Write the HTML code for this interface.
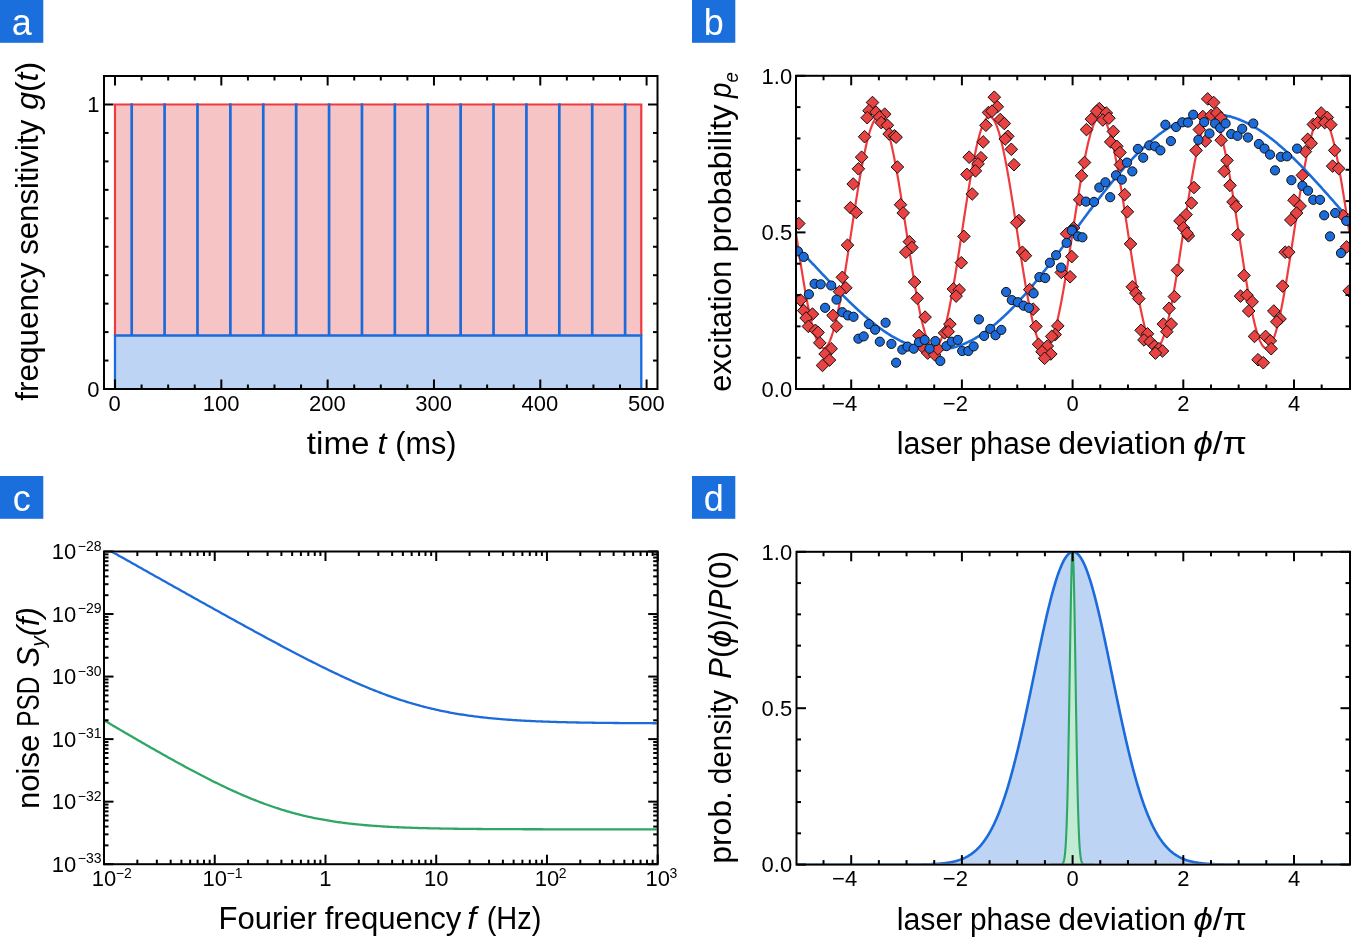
<!DOCTYPE html><html><head><meta charset="utf-8"><style>html,body{margin:0;padding:0;background:#fff;overflow:hidden}svg{display:block;will-change:transform}text{font-kerning:none;font-variant-ligatures:none}</style></head><body><svg width="1351" height="940" viewBox="0 0 1351 940" font-family='"Liberation Sans", sans-serif'>
<rect width="1351" height="940" fill="#fff"/>
<rect x="115" y="104.5" width="526.28" height="284.5" fill="#f7c4c5"/>
<rect x="115" y="335.51" width="526.28" height="53.49" fill="#bdd4f4"/>
<polyline points="115,335.51 115,104.5 641.28,104.5 641.28,335.51" fill="none" stroke="#ef3b3e" stroke-width="2.2"/>
<polyline points="115,389 115,335.51 641.28,335.51 641.28,389" fill="none" stroke="#1b6bdb" stroke-width="2.3"/>
<line x1="131.7" y1="335.51" x2="131.7" y2="103.3" stroke="#1b6bdb" stroke-width="2.7"/>
<line x1="164.59" y1="335.51" x2="164.59" y2="103.3" stroke="#1b6bdb" stroke-width="2.7"/>
<line x1="197.49" y1="335.51" x2="197.49" y2="103.3" stroke="#1b6bdb" stroke-width="2.7"/>
<line x1="230.38" y1="335.51" x2="230.38" y2="103.3" stroke="#1b6bdb" stroke-width="2.7"/>
<line x1="263.27" y1="335.51" x2="263.27" y2="103.3" stroke="#1b6bdb" stroke-width="2.7"/>
<line x1="296.16" y1="335.51" x2="296.16" y2="103.3" stroke="#1b6bdb" stroke-width="2.7"/>
<line x1="329.06" y1="335.51" x2="329.06" y2="103.3" stroke="#1b6bdb" stroke-width="2.7"/>
<line x1="361.95" y1="335.51" x2="361.95" y2="103.3" stroke="#1b6bdb" stroke-width="2.7"/>
<line x1="394.84" y1="335.51" x2="394.84" y2="103.3" stroke="#1b6bdb" stroke-width="2.7"/>
<line x1="427.74" y1="335.51" x2="427.74" y2="103.3" stroke="#1b6bdb" stroke-width="2.7"/>
<line x1="460.63" y1="335.51" x2="460.63" y2="103.3" stroke="#1b6bdb" stroke-width="2.7"/>
<line x1="493.52" y1="335.51" x2="493.52" y2="103.3" stroke="#1b6bdb" stroke-width="2.7"/>
<line x1="526.42" y1="335.51" x2="526.42" y2="103.3" stroke="#1b6bdb" stroke-width="2.7"/>
<line x1="559.31" y1="335.51" x2="559.31" y2="103.3" stroke="#1b6bdb" stroke-width="2.7"/>
<line x1="592.2" y1="335.51" x2="592.2" y2="103.3" stroke="#1b6bdb" stroke-width="2.7"/>
<line x1="625.1" y1="335.51" x2="625.1" y2="103.3" stroke="#1b6bdb" stroke-width="2.7"/>
<line x1="115" y1="389" x2="115" y2="379.5" stroke="#000" stroke-width="2"/>
<line x1="115" y1="76" x2="115" y2="85.5" stroke="#000" stroke-width="2"/>
<line x1="221.32" y1="389" x2="221.32" y2="379.5" stroke="#000" stroke-width="2"/>
<line x1="221.32" y1="76" x2="221.32" y2="85.5" stroke="#000" stroke-width="2"/>
<line x1="327.64" y1="389" x2="327.64" y2="379.5" stroke="#000" stroke-width="2"/>
<line x1="327.64" y1="76" x2="327.64" y2="85.5" stroke="#000" stroke-width="2"/>
<line x1="433.96" y1="389" x2="433.96" y2="379.5" stroke="#000" stroke-width="2"/>
<line x1="433.96" y1="76" x2="433.96" y2="85.5" stroke="#000" stroke-width="2"/>
<line x1="540.28" y1="389" x2="540.28" y2="379.5" stroke="#000" stroke-width="2"/>
<line x1="540.28" y1="76" x2="540.28" y2="85.5" stroke="#000" stroke-width="2"/>
<line x1="646.6" y1="389" x2="646.6" y2="379.5" stroke="#000" stroke-width="2"/>
<line x1="646.6" y1="76" x2="646.6" y2="85.5" stroke="#000" stroke-width="2"/>
<line x1="141.58" y1="389" x2="141.58" y2="384.5" stroke="#000" stroke-width="2"/>
<line x1="141.58" y1="76" x2="141.58" y2="80.5" stroke="#000" stroke-width="2"/>
<line x1="168.16" y1="389" x2="168.16" y2="384.5" stroke="#000" stroke-width="2"/>
<line x1="168.16" y1="76" x2="168.16" y2="80.5" stroke="#000" stroke-width="2"/>
<line x1="194.74" y1="389" x2="194.74" y2="384.5" stroke="#000" stroke-width="2"/>
<line x1="194.74" y1="76" x2="194.74" y2="80.5" stroke="#000" stroke-width="2"/>
<line x1="247.9" y1="389" x2="247.9" y2="384.5" stroke="#000" stroke-width="2"/>
<line x1="247.9" y1="76" x2="247.9" y2="80.5" stroke="#000" stroke-width="2"/>
<line x1="274.48" y1="389" x2="274.48" y2="384.5" stroke="#000" stroke-width="2"/>
<line x1="274.48" y1="76" x2="274.48" y2="80.5" stroke="#000" stroke-width="2"/>
<line x1="301.06" y1="389" x2="301.06" y2="384.5" stroke="#000" stroke-width="2"/>
<line x1="301.06" y1="76" x2="301.06" y2="80.5" stroke="#000" stroke-width="2"/>
<line x1="354.22" y1="389" x2="354.22" y2="384.5" stroke="#000" stroke-width="2"/>
<line x1="354.22" y1="76" x2="354.22" y2="80.5" stroke="#000" stroke-width="2"/>
<line x1="380.8" y1="389" x2="380.8" y2="384.5" stroke="#000" stroke-width="2"/>
<line x1="380.8" y1="76" x2="380.8" y2="80.5" stroke="#000" stroke-width="2"/>
<line x1="407.38" y1="389" x2="407.38" y2="384.5" stroke="#000" stroke-width="2"/>
<line x1="407.38" y1="76" x2="407.38" y2="80.5" stroke="#000" stroke-width="2"/>
<line x1="460.54" y1="389" x2="460.54" y2="384.5" stroke="#000" stroke-width="2"/>
<line x1="460.54" y1="76" x2="460.54" y2="80.5" stroke="#000" stroke-width="2"/>
<line x1="487.12" y1="389" x2="487.12" y2="384.5" stroke="#000" stroke-width="2"/>
<line x1="487.12" y1="76" x2="487.12" y2="80.5" stroke="#000" stroke-width="2"/>
<line x1="513.7" y1="389" x2="513.7" y2="384.5" stroke="#000" stroke-width="2"/>
<line x1="513.7" y1="76" x2="513.7" y2="80.5" stroke="#000" stroke-width="2"/>
<line x1="566.86" y1="389" x2="566.86" y2="384.5" stroke="#000" stroke-width="2"/>
<line x1="566.86" y1="76" x2="566.86" y2="80.5" stroke="#000" stroke-width="2"/>
<line x1="593.44" y1="389" x2="593.44" y2="384.5" stroke="#000" stroke-width="2"/>
<line x1="593.44" y1="76" x2="593.44" y2="80.5" stroke="#000" stroke-width="2"/>
<line x1="620.02" y1="389" x2="620.02" y2="384.5" stroke="#000" stroke-width="2"/>
<line x1="620.02" y1="76" x2="620.02" y2="80.5" stroke="#000" stroke-width="2"/>
<line x1="104" y1="389" x2="113.5" y2="389" stroke="#000" stroke-width="2"/>
<line x1="657.5" y1="389" x2="648" y2="389" stroke="#000" stroke-width="2"/>
<line x1="104" y1="104.5" x2="113.5" y2="104.5" stroke="#000" stroke-width="2"/>
<line x1="657.5" y1="104.5" x2="648" y2="104.5" stroke="#000" stroke-width="2"/>
<line x1="104" y1="360.55" x2="108.5" y2="360.55" stroke="#000" stroke-width="2"/>
<line x1="657.5" y1="360.55" x2="653" y2="360.55" stroke="#000" stroke-width="2"/>
<line x1="104" y1="332.1" x2="108.5" y2="332.1" stroke="#000" stroke-width="2"/>
<line x1="657.5" y1="332.1" x2="653" y2="332.1" stroke="#000" stroke-width="2"/>
<line x1="104" y1="303.65" x2="108.5" y2="303.65" stroke="#000" stroke-width="2"/>
<line x1="657.5" y1="303.65" x2="653" y2="303.65" stroke="#000" stroke-width="2"/>
<line x1="104" y1="275.2" x2="108.5" y2="275.2" stroke="#000" stroke-width="2"/>
<line x1="657.5" y1="275.2" x2="653" y2="275.2" stroke="#000" stroke-width="2"/>
<line x1="104" y1="246.75" x2="108.5" y2="246.75" stroke="#000" stroke-width="2"/>
<line x1="657.5" y1="246.75" x2="653" y2="246.75" stroke="#000" stroke-width="2"/>
<line x1="104" y1="218.3" x2="108.5" y2="218.3" stroke="#000" stroke-width="2"/>
<line x1="657.5" y1="218.3" x2="653" y2="218.3" stroke="#000" stroke-width="2"/>
<line x1="104" y1="189.85" x2="108.5" y2="189.85" stroke="#000" stroke-width="2"/>
<line x1="657.5" y1="189.85" x2="653" y2="189.85" stroke="#000" stroke-width="2"/>
<line x1="104" y1="161.4" x2="108.5" y2="161.4" stroke="#000" stroke-width="2"/>
<line x1="657.5" y1="161.4" x2="653" y2="161.4" stroke="#000" stroke-width="2"/>
<line x1="104" y1="132.95" x2="108.5" y2="132.95" stroke="#000" stroke-width="2"/>
<line x1="657.5" y1="132.95" x2="653" y2="132.95" stroke="#000" stroke-width="2"/>
<rect x="104" y="76" width="553.5" height="313" fill="none" stroke="#000" stroke-width="2"/>
<text x="114.7" y="410.8" font-size="22" text-anchor="middle" >0</text>
<text x="221.02" y="410.8" font-size="22" text-anchor="middle" >100</text>
<text x="327.34" y="410.8" font-size="22" text-anchor="middle" >200</text>
<text x="433.66" y="410.8" font-size="22" text-anchor="middle" >300</text>
<text x="539.98" y="410.8" font-size="22" text-anchor="middle" >400</text>
<text x="646.3" y="410.8" font-size="22" text-anchor="middle" >500</text>
<text x="99.5" y="112.3" font-size="22" text-anchor="end" >1</text>
<text x="99.5" y="396.8" font-size="22" text-anchor="end" >0</text>
<text x="306.80" y="453.8" font-size="31" textLength="62.78" lengthAdjust="spacingAndGlyphs" ><tspan>time</tspan></text>
<text x="377.43" y="453.8" font-size="31" textLength="9.04" lengthAdjust="spacingAndGlyphs" ><tspan font-style="italic">t</tspan></text>
<text x="395.30" y="453.8" font-size="31" textLength="61.20" lengthAdjust="spacingAndGlyphs" ><tspan>(ms)</tspan></text>
<text transform="translate(38,0) rotate(-90)" x="-400.85" y="0" font-size="31" textLength="138.31" lengthAdjust="spacingAndGlyphs" ><tspan>frequency</tspan></text>
<text transform="translate(38,0) rotate(-90)" x="-254.87" y="0" font-size="31" textLength="135.13" lengthAdjust="spacingAndGlyphs" ><tspan>sensitivity</tspan></text>
<text transform="translate(38,0) rotate(-90)" x="-109.76" y="0" font-size="31" textLength="47.84" lengthAdjust="spacingAndGlyphs" ><tspan font-style="italic">g</tspan><tspan>(</tspan><tspan font-style="italic">t</tspan><tspan>)</tspan></text>
<defs><clipPath id="cb"><rect x="797" y="76.8" width="552" height="311.2"/></clipPath><clipPath id="cd"><rect x="797.5" y="552.8" width="552" height="310.8"/></clipPath></defs>
<g clip-path="url(#cb)">
<polyline points="795.85,232.4 796.77,238.46 797.69,244.51 798.62,250.53 799.54,256.49 800.46,262.39 801.38,268.21 802.31,273.93 803.23,279.53 804.15,285.01 805.07,290.34 806,295.51 806.92,300.51 807.84,305.33 808.76,309.94 809.69,314.34 810.61,318.52 811.53,322.46 812.45,326.15 813.38,329.59 814.3,332.76 815.22,335.65 816.14,338.27 817.07,340.59 817.99,342.61 818.91,344.34 819.83,345.75 820.76,346.86 821.68,347.65 822.6,348.13 823.52,348.28 824.45,348.13 825.37,347.65 826.29,346.86 827.21,345.75 828.14,344.34 829.06,342.61 829.98,340.59 830.9,338.27 831.83,335.65 832.75,332.76 833.67,329.59 834.59,326.15 835.52,322.46 836.44,318.52 837.36,314.34 838.28,309.94 839.21,305.33 840.13,300.51 841.05,295.51 841.97,290.34 842.9,285.01 843.82,279.53 844.74,273.93 845.66,268.21 846.59,262.39 847.51,256.49 848.43,250.53 849.35,244.51 850.28,238.46 851.2,232.4 852.12,226.34 853.04,220.29 853.97,214.27 854.89,208.31 855.81,202.41 856.73,196.59 857.66,190.87 858.58,185.27 859.5,179.79 860.42,174.46 861.35,169.29 862.27,164.29 863.19,159.47 864.11,154.86 865.04,150.46 865.96,146.28 866.88,142.34 867.8,138.65 868.73,135.21 869.65,132.04 870.57,129.15 871.49,126.53 872.42,124.21 873.34,122.19 874.26,120.46 875.18,119.05 876.11,117.94 877.03,117.15 877.95,116.67 878.87,116.52 879.8,116.67 880.72,117.15 881.64,117.94 882.56,119.05 883.49,120.46 884.41,122.19 885.33,124.21 886.25,126.53 887.18,129.15 888.1,132.04 889.02,135.21 889.94,138.65 890.87,142.34 891.79,146.28 892.71,150.46 893.63,154.86 894.56,159.47 895.48,164.29 896.4,169.29 897.32,174.46 898.25,179.79 899.17,185.27 900.09,190.87 901.01,196.59 901.94,202.41 902.86,208.31 903.78,214.27 904.7,220.29 905.63,226.34 906.55,232.4 907.47,238.46 908.39,244.51 909.32,250.53 910.24,256.49 911.16,262.39 912.08,268.21 913.01,273.93 913.93,279.53 914.85,285.01 915.77,290.34 916.7,295.51 917.62,300.51 918.54,305.33 919.46,309.94 920.39,314.34 921.31,318.52 922.23,322.46 923.15,326.15 924.08,329.59 925,332.76 925.92,335.65 926.84,338.27 927.77,340.59 928.69,342.61 929.61,344.34 930.53,345.75 931.46,346.86 932.38,347.65 933.3,348.13 934.22,348.28 935.15,348.13 936.07,347.65 936.99,346.86 937.91,345.75 938.84,344.34 939.76,342.61 940.68,340.59 941.6,338.27 942.53,335.65 943.45,332.76 944.37,329.59 945.29,326.15 946.22,322.46 947.14,318.52 948.06,314.34 948.98,309.94 949.91,305.33 950.83,300.51 951.75,295.51 952.67,290.34 953.6,285.01 954.52,279.53 955.44,273.93 956.36,268.21 957.29,262.39 958.21,256.49 959.13,250.53 960.05,244.51 960.98,238.46 961.9,232.4 962.82,226.34 963.74,220.29 964.67,214.27 965.59,208.31 966.51,202.41 967.43,196.59 968.36,190.87 969.28,185.27 970.2,179.79 971.12,174.46 972.05,169.29 972.97,164.29 973.89,159.47 974.81,154.86 975.74,150.46 976.66,146.28 977.58,142.34 978.5,138.65 979.43,135.21 980.35,132.04 981.27,129.15 982.19,126.53 983.12,124.21 984.04,122.19 984.96,120.46 985.88,119.05 986.81,117.94 987.73,117.15 988.65,116.67 989.57,116.52 990.5,116.67 991.42,117.15 992.34,117.94 993.26,119.05 994.19,120.46 995.11,122.19 996.03,124.21 996.95,126.53 997.88,129.15 998.8,132.04 999.72,135.21 1000.64,138.65 1001.57,142.34 1002.49,146.28 1003.41,150.46 1004.33,154.86 1005.26,159.47 1006.18,164.29 1007.1,169.29 1008.02,174.46 1008.95,179.79 1009.87,185.27 1010.79,190.87 1011.71,196.59 1012.64,202.41 1013.56,208.31 1014.48,214.27 1015.4,220.29 1016.33,226.34 1017.25,232.4 1018.17,238.46 1019.09,244.51 1020.02,250.53 1020.94,256.49 1021.86,262.39 1022.78,268.21 1023.71,273.93 1024.63,279.53 1025.55,285.01 1026.47,290.34 1027.4,295.51 1028.32,300.51 1029.24,305.33 1030.16,309.94 1031.09,314.34 1032.01,318.52 1032.93,322.46 1033.85,326.15 1034.78,329.59 1035.7,332.76 1036.62,335.65 1037.54,338.27 1038.47,340.59 1039.39,342.61 1040.31,344.34 1041.23,345.75 1042.16,346.86 1043.08,347.65 1044,348.13 1044.92,348.28 1045.85,348.13 1046.77,347.65 1047.69,346.86 1048.61,345.75 1049.54,344.34 1050.46,342.61 1051.38,340.59 1052.3,338.27 1053.23,335.65 1054.15,332.76 1055.07,329.59 1055.99,326.15 1056.92,322.46 1057.84,318.52 1058.76,314.34 1059.68,309.94 1060.61,305.33 1061.53,300.51 1062.45,295.51 1063.38,290.34 1064.3,285.01 1065.22,279.53 1066.14,273.93 1067.06,268.21 1067.99,262.39 1068.91,256.49 1069.83,250.53 1070.75,244.51 1071.68,238.46 1072.6,232.4 1073.52,226.34 1074.44,220.29 1075.37,214.27 1076.29,208.31 1077.21,202.41 1078.13,196.59 1079.06,190.87 1079.98,185.27 1080.9,179.79 1081.82,174.46 1082.75,169.29 1083.67,164.29 1084.59,159.47 1085.51,154.86 1086.44,150.46 1087.36,146.28 1088.28,142.34 1089.2,138.65 1090.13,135.21 1091.05,132.04 1091.97,129.15 1092.89,126.53 1093.82,124.21 1094.74,122.19 1095.66,120.46 1096.59,119.05 1097.51,117.94 1098.43,117.15 1099.35,116.67 1100.27,116.52 1101.2,116.67 1102.12,117.15 1103.04,117.94 1103.96,119.05 1104.89,120.46 1105.81,122.19 1106.73,124.21 1107.65,126.53 1108.58,129.15 1109.5,132.04 1110.42,135.21 1111.35,138.65 1112.27,142.34 1113.19,146.28 1114.11,150.46 1115.03,154.86 1115.96,159.47 1116.88,164.29 1117.8,169.29 1118.72,174.46 1119.65,179.79 1120.57,185.27 1121.49,190.87 1122.41,196.59 1123.34,202.41 1124.26,208.31 1125.18,214.27 1126.11,220.29 1127.03,226.34 1127.95,232.4 1128.87,238.46 1129.79,244.51 1130.72,250.53 1131.64,256.49 1132.56,262.39 1133.48,268.21 1134.41,273.93 1135.33,279.53 1136.25,285.01 1137.17,290.34 1138.1,295.51 1139.02,300.51 1139.94,305.33 1140.87,309.94 1141.79,314.34 1142.71,318.52 1143.63,322.46 1144.55,326.15 1145.48,329.59 1146.4,332.76 1147.32,335.65 1148.24,338.27 1149.17,340.59 1150.09,342.61 1151.01,344.34 1151.93,345.75 1152.86,346.86 1153.78,347.65 1154.7,348.13 1155.62,348.28 1156.55,348.13 1157.47,347.65 1158.39,346.86 1159.31,345.75 1160.24,344.34 1161.16,342.61 1162.08,340.59 1163,338.27 1163.93,335.65 1164.85,332.76 1165.77,329.59 1166.69,326.15 1167.62,322.46 1168.54,318.52 1169.46,314.34 1170.38,309.94 1171.31,305.33 1172.23,300.51 1173.15,295.51 1174.07,290.34 1175,285.01 1175.92,279.53 1176.84,273.93 1177.76,268.21 1178.69,262.39 1179.61,256.49 1180.53,250.53 1181.45,244.51 1182.38,238.46 1183.3,232.4 1184.22,226.34 1185.14,220.29 1186.07,214.27 1186.99,208.31 1187.91,202.41 1188.83,196.59 1189.76,190.87 1190.68,185.27 1191.6,179.79 1192.52,174.46 1193.45,169.29 1194.37,164.29 1195.29,159.47 1196.21,154.86 1197.14,150.46 1198.06,146.28 1198.98,142.34 1199.9,138.65 1200.83,135.21 1201.75,132.04 1202.67,129.15 1203.59,126.53 1204.52,124.21 1205.44,122.19 1206.36,120.46 1207.28,119.05 1208.21,117.94 1209.13,117.15 1210.05,116.67 1210.97,116.52 1211.9,116.67 1212.82,117.15 1213.74,117.94 1214.66,119.05 1215.59,120.46 1216.51,122.19 1217.43,124.21 1218.36,126.53 1219.28,129.15 1220.2,132.04 1221.12,135.21 1222.04,138.65 1222.97,142.34 1223.89,146.28 1224.81,150.46 1225.73,154.86 1226.66,159.47 1227.58,164.29 1228.5,169.29 1229.42,174.46 1230.35,179.79 1231.27,185.27 1232.19,190.87 1233.12,196.59 1234.04,202.41 1234.96,208.31 1235.88,214.27 1236.8,220.29 1237.73,226.34 1238.65,232.4 1239.57,238.46 1240.49,244.51 1241.42,250.53 1242.34,256.49 1243.26,262.39 1244.18,268.21 1245.11,273.93 1246.03,279.53 1246.95,285.01 1247.88,290.34 1248.8,295.51 1249.72,300.51 1250.64,305.33 1251.56,309.94 1252.49,314.34 1253.41,318.52 1254.33,322.46 1255.25,326.15 1256.18,329.59 1257.1,332.76 1258.02,335.65 1258.94,338.27 1259.87,340.59 1260.79,342.61 1261.71,344.34 1262.63,345.75 1263.56,346.86 1264.48,347.65 1265.4,348.13 1266.32,348.28 1267.25,348.13 1268.17,347.65 1269.09,346.86 1270.01,345.75 1270.94,344.34 1271.86,342.61 1272.78,340.59 1273.7,338.27 1274.63,335.65 1275.55,332.76 1276.47,329.59 1277.39,326.15 1278.32,322.46 1279.24,318.52 1280.16,314.34 1281.09,309.94 1282.01,305.33 1282.93,300.51 1283.85,295.51 1284.77,290.34 1285.7,285.01 1286.62,279.53 1287.54,273.93 1288.46,268.21 1289.39,262.39 1290.31,256.49 1291.23,250.53 1292.15,244.51 1293.08,238.46 1294,232.4 1294.92,226.34 1295.84,220.29 1296.77,214.27 1297.69,208.31 1298.61,202.41 1299.53,196.59 1300.46,190.87 1301.38,185.27 1302.3,179.79 1303.22,174.46 1304.15,169.29 1305.07,164.29 1305.99,159.47 1306.91,154.86 1307.84,150.46 1308.76,146.28 1309.68,142.34 1310.61,138.65 1311.53,135.21 1312.45,132.04 1313.37,129.15 1314.29,126.53 1315.22,124.21 1316.14,122.19 1317.06,120.46 1317.98,119.05 1318.91,117.94 1319.83,117.15 1320.75,116.67 1321.67,116.52 1322.6,116.67 1323.52,117.15 1324.44,117.94 1325.36,119.05 1326.29,120.46 1327.21,122.19 1328.13,124.21 1329.05,126.53 1329.98,129.15 1330.9,132.04 1331.82,135.21 1332.74,138.65 1333.67,142.34 1334.59,146.28 1335.51,150.46 1336.43,154.86 1337.36,159.47 1338.28,164.29 1339.2,169.29 1340.12,174.46 1341.05,179.79 1341.97,185.27 1342.89,190.87 1343.82,196.59 1344.74,202.41 1345.66,208.31 1346.58,214.27 1347.5,220.29 1348.43,226.34 1349.35,232.4" fill="none" stroke="#ef3b3e" stroke-width="2.2"/>
<polyline points="795.85,246.22 796.77,247.16 797.69,248.11 798.62,249.06 799.54,250.01 800.46,250.96 801.38,251.92 802.31,252.88 803.23,253.84 804.15,254.8 805.07,255.76 806,256.73 806.92,257.69 807.84,258.66 808.76,259.63 809.69,260.61 810.61,261.58 811.53,262.55 812.45,263.53 813.38,264.5 814.3,265.48 815.22,266.45 816.14,267.43 817.07,268.41 817.99,269.39 818.91,270.36 819.83,271.34 820.76,272.32 821.68,273.29 822.6,274.27 823.52,275.25 824.45,276.22 825.37,277.19 826.29,278.17 827.21,279.14 828.14,280.11 829.06,281.08 829.98,282.04 830.9,283.01 831.83,283.97 832.75,284.93 833.67,285.89 834.59,286.85 835.52,287.8 836.44,288.75 837.36,289.7 838.28,290.65 839.21,291.59 840.13,292.53 841.05,293.47 841.97,294.4 842.9,295.33 843.82,296.26 844.74,297.18 845.66,298.1 846.59,299.01 847.51,299.92 848.43,300.83 849.35,301.73 850.28,302.62 851.2,303.52 852.12,304.4 853.04,305.28 853.97,306.16 854.89,307.03 855.81,307.9 856.73,308.76 857.66,309.61 858.58,310.46 859.5,311.3 860.42,312.14 861.35,312.97 862.27,313.79 863.19,314.61 864.11,315.42 865.04,316.22 865.96,317.02 866.88,317.81 867.8,318.59 868.73,319.37 869.65,320.14 870.57,320.9 871.49,321.65 872.42,322.4 873.34,323.13 874.26,323.86 875.18,324.59 876.11,325.3 877.03,326.01 877.95,326.7 878.87,327.39 879.8,328.07 880.72,328.74 881.64,329.4 882.56,330.06 883.49,330.7 884.41,331.34 885.33,331.96 886.25,332.58 887.18,333.19 888.1,333.78 889.02,334.37 889.94,334.95 890.87,335.52 891.79,336.08 892.71,336.62 893.63,337.16 894.56,337.69 895.48,338.21 896.4,338.72 897.32,339.21 898.25,339.7 899.17,340.18 900.09,340.64 901.01,341.09 901.94,341.54 902.86,341.97 903.78,342.39 904.7,342.8 905.63,343.2 906.55,343.59 907.47,343.97 908.39,344.33 909.32,344.69 910.24,345.03 911.16,345.36 912.08,345.68 913.01,345.99 913.93,346.29 914.85,346.57 915.77,346.84 916.7,347.11 917.62,347.35 918.54,347.59 919.46,347.82 920.39,348.03 921.31,348.23 922.23,348.42 923.15,348.6 924.08,348.76 925,348.91 925.92,349.05 926.84,349.18 927.77,349.29 928.69,349.4 929.61,349.49 930.53,349.56 931.46,349.63 932.38,349.68 933.3,349.72 934.22,349.75 935.15,349.77 936.07,349.77 936.99,349.76 937.91,349.74 938.84,349.7 939.76,349.65 940.68,349.59 941.6,349.52 942.53,349.43 943.45,349.33 944.37,349.22 945.29,349.1 946.22,348.96 947.14,348.81 948.06,348.65 948.98,348.48 949.91,348.29 950.83,348.09 951.75,347.88 952.67,347.65 953.6,347.42 954.52,347.17 955.44,346.9 956.36,346.63 957.29,346.34 958.21,346.04 959.13,345.73 960.05,345.4 960.98,345.06 961.9,344.71 962.82,344.35 963.74,343.98 964.67,343.59 965.59,343.19 966.51,342.78 967.43,342.35 968.36,341.92 969.28,341.47 970.2,341.01 971.12,340.54 972.05,340.05 972.97,339.56 973.89,339.05 974.81,338.53 975.74,338 976.66,337.46 977.58,336.9 978.5,336.33 979.43,335.76 980.35,335.17 981.27,334.56 982.19,333.95 983.12,333.33 984.04,332.69 984.96,332.05 985.88,331.39 986.81,330.72 987.73,330.04 988.65,329.35 989.57,328.65 990.5,327.94 991.42,327.21 992.34,326.48 993.26,325.74 994.19,324.98 995.11,324.22 996.03,323.44 996.95,322.66 997.88,321.86 998.8,321.06 999.72,320.24 1000.64,319.42 1001.57,318.58 1002.49,317.74 1003.41,316.88 1004.33,316.02 1005.26,315.15 1006.18,314.26 1007.1,313.37 1008.02,312.47 1008.95,311.56 1009.87,310.64 1010.79,309.72 1011.71,308.78 1012.64,307.83 1013.56,306.88 1014.48,305.92 1015.4,304.95 1016.33,303.97 1017.25,302.98 1018.17,301.99 1019.09,300.99 1020.02,299.98 1020.94,298.96 1021.86,297.94 1022.78,296.9 1023.71,295.86 1024.63,294.82 1025.55,293.76 1026.47,292.7 1027.4,291.64 1028.32,290.56 1029.24,289.48 1030.16,288.39 1031.09,287.3 1032.01,286.2 1032.93,285.09 1033.85,283.98 1034.78,282.86 1035.7,281.74 1036.62,280.61 1037.54,279.48 1038.47,278.34 1039.39,277.19 1040.31,276.04 1041.23,274.88 1042.16,273.72 1043.08,272.56 1044,271.39 1044.92,270.22 1045.85,269.04 1046.77,267.86 1047.69,266.67 1048.61,265.48 1049.54,264.29 1050.46,263.09 1051.38,261.89 1052.3,260.68 1053.23,259.47 1054.15,258.26 1055.07,257.05 1055.99,255.83 1056.92,254.61 1057.84,253.39 1058.76,252.17 1059.68,250.94 1060.61,249.71 1061.53,248.48 1062.45,247.25 1063.38,246.02 1064.3,244.78 1065.22,243.54 1066.14,242.3 1067.06,241.06 1067.99,239.82 1068.91,238.58 1069.83,237.34 1070.75,236.1 1071.68,234.85 1072.6,233.61 1073.52,232.36 1074.44,231.12 1075.37,229.88 1076.29,228.63 1077.21,227.39 1078.13,226.15 1079.06,224.9 1079.98,223.66 1080.9,222.42 1081.82,221.18 1082.75,219.95 1083.67,218.71 1084.59,217.47 1085.51,216.24 1086.44,215.01 1087.36,213.78 1088.28,212.55 1089.2,211.32 1090.13,210.1 1091.05,208.88 1091.97,207.66 1092.89,206.45 1093.82,205.23 1094.74,204.02 1095.66,202.82 1096.59,201.61 1097.51,200.41 1098.43,199.22 1099.35,198.03 1100.27,196.84 1101.2,195.65 1102.12,194.47 1103.04,193.29 1103.96,192.12 1104.89,190.95 1105.81,189.79 1106.73,188.63 1107.65,187.48 1108.58,186.33 1109.5,185.19 1110.42,184.05 1111.35,182.92 1112.27,181.79 1113.19,180.67 1114.11,179.55 1115.03,178.44 1115.96,177.34 1116.88,176.24 1117.8,175.15 1118.72,174.06 1119.65,172.98 1120.57,171.91 1121.49,170.85 1122.41,169.79 1123.34,168.74 1124.26,167.69 1125.18,166.65 1126.11,165.62 1127.03,164.6 1127.95,163.59 1128.87,162.58 1129.79,161.58 1130.72,160.59 1131.64,159.61 1132.56,158.63 1133.48,157.66 1134.41,156.7 1135.33,155.75 1136.25,154.81 1137.17,153.88 1138.1,152.95 1139.02,152.04 1139.94,151.13 1140.87,150.23 1141.79,149.34 1142.71,148.46 1143.63,147.59 1144.55,146.73 1145.48,145.88 1146.4,145.04 1147.32,144.21 1148.24,143.39 1149.17,142.57 1150.09,141.77 1151.01,140.98 1151.93,140.2 1152.86,139.43 1153.78,138.66 1154.7,137.91 1155.62,137.17 1156.55,136.44 1157.47,135.72 1158.39,135.01 1159.31,134.32 1160.24,133.63 1161.16,132.95 1162.08,132.29 1163,131.63 1163.93,130.99 1164.85,130.36 1165.77,129.74 1166.69,129.13 1167.62,128.53 1168.54,127.94 1169.46,127.37 1170.38,126.8 1171.31,126.25 1172.23,125.71 1173.15,125.18 1174.07,124.67 1175,124.16 1175.92,123.67 1176.84,123.19 1177.76,122.72 1178.69,122.26 1179.61,121.82 1180.53,121.39 1181.45,120.97 1182.38,120.56 1183.3,120.16 1184.22,119.78 1185.14,119.41 1186.07,119.05 1186.99,118.7 1187.91,118.37 1188.83,118.05 1189.76,117.74 1190.68,117.44 1191.6,117.16 1192.52,116.88 1193.45,116.63 1194.37,116.38 1195.29,116.14 1196.21,115.92 1197.14,115.71 1198.06,115.52 1198.98,115.34 1199.9,115.16 1200.83,115.01 1201.75,114.86 1202.67,114.73 1203.59,114.61 1204.52,114.5 1205.44,114.41 1206.36,114.32 1207.28,114.26 1208.21,114.2 1209.13,114.15 1210.05,114.12 1210.97,114.11 1211.9,114.1 1212.82,114.11 1213.74,114.13 1214.66,114.16 1215.59,114.2 1216.51,114.26 1217.43,114.33 1218.36,114.41 1219.28,114.51 1220.2,114.61 1221.12,114.73 1222.04,114.87 1222.97,115.01 1223.89,115.17 1224.81,115.34 1225.73,115.52 1226.66,115.71 1227.58,115.92 1228.5,116.14 1229.42,116.37 1230.35,116.61 1231.27,116.86 1232.19,117.13 1233.12,117.41 1234.04,117.7 1234.96,118 1235.88,118.32 1236.8,118.64 1237.73,118.98 1238.65,119.33 1239.57,119.69 1240.49,120.06 1241.42,120.45 1242.34,120.84 1243.26,121.25 1244.18,121.67 1245.11,122.1 1246.03,122.54 1246.95,122.99 1247.88,123.45 1248.8,123.93 1249.72,124.41 1250.64,124.91 1251.56,125.41 1252.49,125.93 1253.41,126.46 1254.33,127 1255.25,127.55 1256.18,128.1 1257.1,128.67 1258.02,129.25 1258.94,129.84 1259.87,130.44 1260.79,131.05 1261.71,131.67 1262.63,132.3 1263.56,132.94 1264.48,133.58 1265.4,134.24 1266.32,134.91 1267.25,135.58 1268.17,136.27 1269.09,136.96 1270.01,137.67 1270.94,138.38 1271.86,139.1 1272.78,139.83 1273.7,140.57 1274.63,141.31 1275.55,142.07 1276.47,142.83 1277.39,143.6 1278.32,144.38 1279.24,145.17 1280.16,145.97 1281.09,146.77 1282.01,147.58 1282.93,148.4 1283.85,149.22 1284.77,150.05 1285.7,150.89 1286.62,151.74 1287.54,152.59 1288.46,153.46 1289.39,154.32 1290.31,155.2 1291.23,156.08 1292.15,156.96 1293.08,157.86 1294,158.76 1294.92,159.66 1295.84,160.57 1296.77,161.49 1297.69,162.41 1298.61,163.34 1299.53,164.27 1300.46,165.21 1301.38,166.15 1302.3,167.1 1303.22,168.06 1304.15,169.01 1305.07,169.98 1305.99,170.95 1306.91,171.92 1307.84,172.89 1308.76,173.87 1309.68,174.86 1310.61,175.85 1311.53,176.84 1312.45,177.84 1313.37,178.84 1314.29,179.84 1315.22,180.85 1316.14,181.85 1317.06,182.87 1317.98,183.88 1318.91,184.9 1319.83,185.92 1320.75,186.95 1321.67,187.97 1322.6,189 1323.52,190.03 1324.44,191.07 1325.36,192.1 1326.29,193.14 1327.21,194.18 1328.13,195.22 1329.05,196.26 1329.98,197.31 1330.9,198.35 1331.82,199.4 1332.74,200.45 1333.67,201.5 1334.59,202.55 1335.51,203.6 1336.43,204.65 1337.36,205.7 1338.28,206.76 1339.2,207.81 1340.12,208.86 1341.05,209.92 1341.97,210.97 1342.89,212.03 1343.82,213.08 1344.74,214.13 1345.66,215.19 1346.58,216.24 1347.5,217.3 1348.43,218.35 1349.35,219.4" fill="none" stroke="#1b6bdb" stroke-width="2.6"/>
<path d="M872.5 96.2L878.8 102.5L872.5 108.8L866.2 102.5Z" fill="#e94242" stroke="#111" stroke-width="1"/>
<path d="M869 104.4L875.3 110.7L869 117L862.7 110.7Z" fill="#e94242" stroke="#111" stroke-width="1"/>
<path d="M876 105.8L882.3 112.1L876 118.4L869.7 112.1Z" fill="#e94242" stroke="#111" stroke-width="1"/>
<path d="M884.7 107.9L891 114.2L884.7 120.5L878.4 114.2Z" fill="#e94242" stroke="#111" stroke-width="1"/>
<path d="M867.2 111.4L873.5 117.7L867.2 124L860.9 117.7Z" fill="#e94242" stroke="#111" stroke-width="1"/>
<path d="M879.5 110.7L885.8 117L879.5 123.3L873.2 117Z" fill="#e94242" stroke="#111" stroke-width="1"/>
<path d="M881.2 116.3L887.5 122.6L881.2 128.9L874.9 122.6Z" fill="#e94242" stroke="#111" stroke-width="1"/>
<path d="M887.4 119L893.7 125.3L887.4 131.6L881.1 125.3Z" fill="#e94242" stroke="#111" stroke-width="1"/>
<path d="M889.1 127.7L895.4 134L889.1 140.3L882.8 134Z" fill="#e94242" stroke="#111" stroke-width="1"/>
<path d="M894.4 129.5L900.7 135.8L894.4 142.1L888.1 135.8Z" fill="#e94242" stroke="#111" stroke-width="1"/>
<path d="M896.1 130.9L902.4 137.2L896.1 143.5L889.8 137.2Z" fill="#e94242" stroke="#111" stroke-width="1"/>
<path d="M864.6 130.4L870.9 136.7L864.6 143L858.3 136.7Z" fill="#e94242" stroke="#111" stroke-width="1"/>
<path d="M861.6 150.9L867.9 157.2L861.6 163.5L855.3 157.2Z" fill="#e94242" stroke="#111" stroke-width="1"/>
<path d="M858.4 162.5L864.7 168.8L858.4 175.1L852.1 168.8Z" fill="#e94242" stroke="#111" stroke-width="1"/>
<path d="M897.4 160.7L903.7 167L897.4 173.3L891.1 167Z" fill="#e94242" stroke="#111" stroke-width="1"/>
<path d="M853.2 177.7L859.5 184L853.2 190.3L846.9 184Z" fill="#e94242" stroke="#111" stroke-width="1"/>
<path d="M850.5 201.4L856.8 207.7L850.5 214L844.2 207.7Z" fill="#e94242" stroke="#111" stroke-width="1"/>
<path d="M856.3 206.2L862.6 212.5L856.3 218.8L850 212.5Z" fill="#e94242" stroke="#111" stroke-width="1"/>
<path d="M900.5 198.4L906.8 204.7L900.5 211L894.2 204.7Z" fill="#e94242" stroke="#111" stroke-width="1"/>
<path d="M903.2 206.7L909.5 213L903.2 219.3L896.9 213Z" fill="#e94242" stroke="#111" stroke-width="1"/>
<path d="M798.8 217.2L805.1 223.5L798.8 229.8L792.5 223.5Z" fill="#e94242" stroke="#111" stroke-width="1"/>
<path d="M847.5 238.9L853.8 245.2L847.5 251.5L841.2 245.2Z" fill="#e94242" stroke="#111" stroke-width="1"/>
<path d="M842.3 271L848.6 277.3L842.3 283.6L836 277.3Z" fill="#e94242" stroke="#111" stroke-width="1"/>
<path d="M845.8 281.5L852.1 287.8L845.8 294.1L839.5 287.8Z" fill="#e94242" stroke="#111" stroke-width="1"/>
<path d="M839.5 285.4L845.8 291.7L839.5 298L833.2 291.7Z" fill="#e94242" stroke="#111" stroke-width="1"/>
<path d="M800.5 293.8L806.8 300.1L800.5 306.4L794.2 300.1Z" fill="#e94242" stroke="#111" stroke-width="1"/>
<path d="M803.7 304.3L810 310.6L803.7 316.9L797.4 310.6Z" fill="#e94242" stroke="#111" stroke-width="1"/>
<path d="M812.5 307.8L818.8 314.1L812.5 320.4L806.2 314.1Z" fill="#e94242" stroke="#111" stroke-width="1"/>
<path d="M806.1 311.7L812.4 318L806.1 324.3L799.8 318Z" fill="#e94242" stroke="#111" stroke-width="1"/>
<path d="M833 309.1L839.3 315.4L833 321.7L826.7 315.4Z" fill="#e94242" stroke="#111" stroke-width="1"/>
<path d="M836.5 320.1L842.8 326.4L836.5 332.7L830.2 326.4Z" fill="#e94242" stroke="#111" stroke-width="1"/>
<path d="M808.4 320.1L814.7 326.4L808.4 332.7L802.1 326.4Z" fill="#e94242" stroke="#111" stroke-width="1"/>
<path d="M815.4 324L821.7 330.3L815.4 336.6L809.1 330.3Z" fill="#e94242" stroke="#111" stroke-width="1"/>
<path d="M818.1 326.1L824.4 332.4L818.1 338.7L811.8 332.4Z" fill="#e94242" stroke="#111" stroke-width="1"/>
<path d="M819.8 336.6L826.1 342.9L819.8 349.2L813.5 342.9Z" fill="#e94242" stroke="#111" stroke-width="1"/>
<path d="M831.2 342.4L837.5 348.7L831.2 355L824.9 348.7Z" fill="#e94242" stroke="#111" stroke-width="1"/>
<path d="M825.1 347.7L831.4 354L825.1 360.3L818.8 354Z" fill="#e94242" stroke="#111" stroke-width="1"/>
<path d="M829.5 353.8L835.8 360.1L829.5 366.4L823.2 360.1Z" fill="#e94242" stroke="#111" stroke-width="1"/>
<path d="M822.5 359.1L828.8 365.4L822.5 371.7L816.2 365.4Z" fill="#e94242" stroke="#111" stroke-width="1"/>
<path d="M909.3 235.4L915.6 241.7L909.3 248L903 241.7Z" fill="#e94242" stroke="#111" stroke-width="1"/>
<path d="M911.9 241.2L918.2 247.5L911.9 253.8L905.6 247.5Z" fill="#e94242" stroke="#111" stroke-width="1"/>
<path d="M905.8 245.9L912.1 252.2L905.8 258.5L899.5 252.2Z" fill="#e94242" stroke="#111" stroke-width="1"/>
<path d="M914.6 275.7L920.9 282L914.6 288.3L908.3 282Z" fill="#e94242" stroke="#111" stroke-width="1"/>
<path d="M917.2 292L923.5 298.3L917.2 304.6L910.9 298.3Z" fill="#e94242" stroke="#111" stroke-width="1"/>
<path d="M925.1 310.8L931.4 317.1L925.1 323.4L918.8 317.1Z" fill="#e94242" stroke="#111" stroke-width="1"/>
<path d="M919 329.2L925.3 335.5L919 341.8L912.7 335.5Z" fill="#e94242" stroke="#111" stroke-width="1"/>
<path d="M923.3 341.5L929.6 347.8L923.3 354.1L917 347.8Z" fill="#e94242" stroke="#111" stroke-width="1"/>
<path d="M927.7 346.8L934 353.1L927.7 359.4L921.4 353.1Z" fill="#e94242" stroke="#111" stroke-width="1"/>
<path d="M934.7 348.5L941 354.8L934.7 361.1L928.4 354.8Z" fill="#e94242" stroke="#111" stroke-width="1"/>
<path d="M994.3 90.9L1000.6 97.2L994.3 103.5L988 97.2Z" fill="#e94242" stroke="#111" stroke-width="1"/>
<path d="M997.3 100.5L1003.6 106.8L997.3 113.1L991 106.8Z" fill="#e94242" stroke="#111" stroke-width="1"/>
<path d="M988.5 106.2L994.8 112.5L988.5 118.8L982.2 112.5Z" fill="#e94242" stroke="#111" stroke-width="1"/>
<path d="M992 104.9L998.3 111.2L992 117.5L985.7 111.2Z" fill="#e94242" stroke="#111" stroke-width="1"/>
<path d="M1000.3 113.2L1006.6 119.5L1000.3 125.8L994 119.5Z" fill="#e94242" stroke="#111" stroke-width="1"/>
<path d="M1004.3 117.2L1010.6 123.5L1004.3 129.8L998 123.5Z" fill="#e94242" stroke="#111" stroke-width="1"/>
<path d="M985.9 119L992.2 125.3L985.9 131.6L979.6 125.3Z" fill="#e94242" stroke="#111" stroke-width="1"/>
<path d="M1007.8 130L1014.1 136.3L1007.8 142.6L1001.5 136.3Z" fill="#e94242" stroke="#111" stroke-width="1"/>
<path d="M1005.2 132.7L1011.5 139L1005.2 145.3L998.9 139Z" fill="#e94242" stroke="#111" stroke-width="1"/>
<path d="M983.2 135.6L989.5 141.9L983.2 148.2L976.9 141.9Z" fill="#e94242" stroke="#111" stroke-width="1"/>
<path d="M1011.3 143L1017.6 149.3L1011.3 155.6L1005 149.3Z" fill="#e94242" stroke="#111" stroke-width="1"/>
<path d="M969.2 150.9L975.5 157.2L969.2 163.5L962.9 157.2Z" fill="#e94242" stroke="#111" stroke-width="1"/>
<path d="M981 151.4L987.3 157.7L981 164L974.7 157.7Z" fill="#e94242" stroke="#111" stroke-width="1"/>
<path d="M978 157.6L984.3 163.9L978 170.2L971.7 163.9Z" fill="#e94242" stroke="#111" stroke-width="1"/>
<path d="M975.4 164.6L981.7 170.9L975.4 177.2L969.1 170.9Z" fill="#e94242" stroke="#111" stroke-width="1"/>
<path d="M966.9 168.1L973.2 174.4L966.9 180.7L960.6 174.4Z" fill="#e94242" stroke="#111" stroke-width="1"/>
<path d="M1014 158.4L1020.3 164.7L1014 171L1007.7 164.7Z" fill="#e94242" stroke="#111" stroke-width="1"/>
<path d="M972.2 187.7L978.5 194L972.2 200.3L965.9 194Z" fill="#e94242" stroke="#111" stroke-width="1"/>
<path d="M1018.9 214.2L1025.2 220.5L1018.9 226.8L1012.6 220.5Z" fill="#e94242" stroke="#111" stroke-width="1"/>
<path d="M1016.6 216.3L1022.9 222.6L1016.6 228.9L1010.3 222.6Z" fill="#e94242" stroke="#111" stroke-width="1"/>
<path d="M1081.5 169.5L1087.8 175.8L1081.5 182.1L1075.2 175.8Z" fill="#e94242" stroke="#111" stroke-width="1"/>
<path d="M1079.7 193.5L1086 199.8L1079.7 206.1L1073.4 199.8Z" fill="#e94242" stroke="#111" stroke-width="1"/>
<path d="M1073.6 221.6L1079.9 227.9L1073.6 234.2L1067.3 227.9Z" fill="#e94242" stroke="#111" stroke-width="1"/>
<path d="M963.9 230.1L970.2 236.4L963.9 242.7L957.6 236.4Z" fill="#e94242" stroke="#111" stroke-width="1"/>
<path d="M961.3 256.4L967.6 262.7L961.3 269L955 262.7Z" fill="#e94242" stroke="#111" stroke-width="1"/>
<path d="M953.4 282.7L959.7 289L953.4 295.3L947.1 289Z" fill="#e94242" stroke="#111" stroke-width="1"/>
<path d="M959.2 283.6L965.5 289.9L959.2 296.2L952.9 289.9Z" fill="#e94242" stroke="#111" stroke-width="1"/>
<path d="M956.1 289.8L962.4 296.1L956.1 302.4L949.8 296.1Z" fill="#e94242" stroke="#111" stroke-width="1"/>
<path d="M949.9 317.8L956.2 324.1L949.9 330.4L943.6 324.1Z" fill="#e94242" stroke="#111" stroke-width="1"/>
<path d="M944.6 326.6L950.9 332.9L944.6 339.2L938.3 332.9Z" fill="#e94242" stroke="#111" stroke-width="1"/>
<path d="M948.2 325.4L954.5 331.7L948.2 338L941.9 331.7Z" fill="#e94242" stroke="#111" stroke-width="1"/>
<path d="M938 342.7L944.3 349L938 355.3L931.7 349Z" fill="#e94242" stroke="#111" stroke-width="1"/>
<path d="M1022.4 245.9L1028.7 252.2L1022.4 258.5L1016.1 252.2Z" fill="#e94242" stroke="#111" stroke-width="1"/>
<path d="M1025.4 249.4L1031.7 255.7L1025.4 262L1019.1 255.7Z" fill="#e94242" stroke="#111" stroke-width="1"/>
<path d="M1029.7 283.3L1036 289.6L1029.7 295.9L1023.4 289.6Z" fill="#e94242" stroke="#111" stroke-width="1"/>
<path d="M1033.2 302.9L1039.5 309.2L1033.2 315.5L1026.9 309.2Z" fill="#e94242" stroke="#111" stroke-width="1"/>
<path d="M1035.9 320.1L1042.2 326.4L1035.9 332.7L1029.6 326.4Z" fill="#e94242" stroke="#111" stroke-width="1"/>
<path d="M1038.5 338L1044.8 344.3L1038.5 350.6L1032.2 344.3Z" fill="#e94242" stroke="#111" stroke-width="1"/>
<path d="M1047.3 339.8L1053.6 346.1L1047.3 352.4L1041 346.1Z" fill="#e94242" stroke="#111" stroke-width="1"/>
<path d="M1042 345.4L1048.3 351.7L1042 358L1035.7 351.7Z" fill="#e94242" stroke="#111" stroke-width="1"/>
<path d="M1050.8 347.7L1057.1 354L1050.8 360.3L1044.5 354Z" fill="#e94242" stroke="#111" stroke-width="1"/>
<path d="M1044.6 352L1050.9 358.3L1044.6 364.6L1038.3 358.3Z" fill="#e94242" stroke="#111" stroke-width="1"/>
<path d="M1057.8 319.6L1064.1 325.9L1057.8 332.2L1051.5 325.9Z" fill="#e94242" stroke="#111" stroke-width="1"/>
<path d="M1055.2 328.3L1061.5 334.6L1055.2 340.9L1048.9 334.6Z" fill="#e94242" stroke="#111" stroke-width="1"/>
<path d="M1051.7 330.1L1058 336.4L1051.7 342.7L1045.4 336.4Z" fill="#e94242" stroke="#111" stroke-width="1"/>
<path d="M1071.8 250.3L1078.1 256.6L1071.8 262.9L1065.5 256.6Z" fill="#e94242" stroke="#111" stroke-width="1"/>
<path d="M1061.3 266.1L1067.6 272.4L1061.3 278.7L1055 272.4Z" fill="#e94242" stroke="#111" stroke-width="1"/>
<path d="M1070.1 270.5L1076.4 276.8L1070.1 283.1L1063.8 276.8Z" fill="#e94242" stroke="#111" stroke-width="1"/>
<path d="M1066.6 227.5L1072.9 233.8L1066.6 240.1L1060.3 233.8Z" fill="#e94242" stroke="#111" stroke-width="1"/>
<path d="M1099.3 102.3L1105.6 108.6L1099.3 114.9L1093 108.6Z" fill="#e94242" stroke="#111" stroke-width="1"/>
<path d="M1096.7 104.9L1103 111.2L1096.7 117.5L1090.4 111.2Z" fill="#e94242" stroke="#111" stroke-width="1"/>
<path d="M1106.3 106.7L1112.6 113L1106.3 119.3L1100 113Z" fill="#e94242" stroke="#111" stroke-width="1"/>
<path d="M1091.4 112.8L1097.7 119.1L1091.4 125.4L1085.1 119.1Z" fill="#e94242" stroke="#111" stroke-width="1"/>
<path d="M1102.8 113.7L1109.1 120L1102.8 126.3L1096.5 120Z" fill="#e94242" stroke="#111" stroke-width="1"/>
<path d="M1108.9 111.9L1115.2 118.2L1108.9 124.5L1102.6 118.2Z" fill="#e94242" stroke="#111" stroke-width="1"/>
<path d="M1086.5 123.3L1092.8 129.6L1086.5 135.9L1080.2 129.6Z" fill="#e94242" stroke="#111" stroke-width="1"/>
<path d="M1113.3 125.1L1119.6 131.4L1113.3 137.7L1107 131.4Z" fill="#e94242" stroke="#111" stroke-width="1"/>
<path d="M1110.7 135.6L1117 141.9L1110.7 148.2L1104.4 141.9Z" fill="#e94242" stroke="#111" stroke-width="1"/>
<path d="M1116.8 140L1123.1 146.3L1116.8 152.6L1110.5 146.3Z" fill="#e94242" stroke="#111" stroke-width="1"/>
<path d="M1120 146.2L1126.3 152.5L1120 158.8L1113.7 152.5Z" fill="#e94242" stroke="#111" stroke-width="1"/>
<path d="M1120.4 158.4L1126.7 164.7L1120.4 171L1114.1 164.7Z" fill="#e94242" stroke="#111" stroke-width="1"/>
<path d="M1084.5 156.2L1090.8 162.5L1084.5 168.8L1078.2 162.5Z" fill="#e94242" stroke="#111" stroke-width="1"/>
<path d="M1124.7 188.3L1131 194.6L1124.7 200.9L1118.4 194.6Z" fill="#e94242" stroke="#111" stroke-width="1"/>
<path d="M1127.4 205.5L1133.7 211.8L1127.4 218.1L1121.1 211.8Z" fill="#e94242" stroke="#111" stroke-width="1"/>
<path d="M1207.7 92.6L1214 98.9L1207.7 105.2L1201.4 98.9Z" fill="#e94242" stroke="#111" stroke-width="1"/>
<path d="M1213.7 96.2L1220 102.5L1213.7 108.8L1207.4 102.5Z" fill="#e94242" stroke="#111" stroke-width="1"/>
<path d="M1202.8 110.2L1209.1 116.5L1202.8 122.8L1196.5 116.5Z" fill="#e94242" stroke="#111" stroke-width="1"/>
<path d="M1211.2 109L1217.5 115.3L1211.2 121.6L1204.9 115.3Z" fill="#e94242" stroke="#111" stroke-width="1"/>
<path d="M1216.8 106.7L1223.1 113L1216.8 119.3L1210.5 113Z" fill="#e94242" stroke="#111" stroke-width="1"/>
<path d="M1199.3 123.3L1205.6 129.6L1199.3 135.9L1193 129.6Z" fill="#e94242" stroke="#111" stroke-width="1"/>
<path d="M1205.4 134.8L1211.7 141.1L1205.4 147.4L1199.1 141.1Z" fill="#e94242" stroke="#111" stroke-width="1"/>
<path d="M1196.1 144.1L1202.4 150.4L1196.1 156.7L1189.8 150.4Z" fill="#e94242" stroke="#111" stroke-width="1"/>
<path d="M1194 181.2L1200.3 187.5L1194 193.8L1187.7 187.5Z" fill="#e94242" stroke="#111" stroke-width="1"/>
<path d="M1191.4 196.7L1197.7 203L1191.4 209.3L1185.1 203Z" fill="#e94242" stroke="#111" stroke-width="1"/>
<path d="M1186.1 208.4L1192.4 214.7L1186.1 221L1179.8 214.7Z" fill="#e94242" stroke="#111" stroke-width="1"/>
<path d="M1180 214.6L1186.3 220.9L1180 227.2L1173.7 220.9Z" fill="#e94242" stroke="#111" stroke-width="1"/>
<path d="M1183.5 221.6L1189.8 227.9L1183.5 234.2L1177.2 227.9Z" fill="#e94242" stroke="#111" stroke-width="1"/>
<path d="M1130.5 237.6L1136.8 243.9L1130.5 250.2L1124.2 243.9Z" fill="#e94242" stroke="#111" stroke-width="1"/>
<path d="M1132.3 280.5L1138.6 286.8L1132.3 293.1L1126 286.8Z" fill="#e94242" stroke="#111" stroke-width="1"/>
<path d="M1135.8 286.8L1142.1 293.1L1135.8 299.4L1129.5 293.1Z" fill="#e94242" stroke="#111" stroke-width="1"/>
<path d="M1138.8 292.4L1145.1 298.7L1138.8 305L1132.5 298.7Z" fill="#e94242" stroke="#111" stroke-width="1"/>
<path d="M1141.1 324L1147.4 330.3L1141.1 336.6L1134.8 330.3Z" fill="#e94242" stroke="#111" stroke-width="1"/>
<path d="M1147.5 327.5L1153.8 333.8L1147.5 340.1L1141.2 333.8Z" fill="#e94242" stroke="#111" stroke-width="1"/>
<path d="M1144 333.6L1150.3 339.9L1144 346.2L1137.7 339.9Z" fill="#e94242" stroke="#111" stroke-width="1"/>
<path d="M1150.2 335.4L1156.5 341.7L1150.2 348L1143.9 341.7Z" fill="#e94242" stroke="#111" stroke-width="1"/>
<path d="M1154.6 339.8L1160.9 346.1L1154.6 352.4L1148.3 346.1Z" fill="#e94242" stroke="#111" stroke-width="1"/>
<path d="M1158.9 342.4L1165.2 348.7L1158.9 355L1152.6 348.7Z" fill="#e94242" stroke="#111" stroke-width="1"/>
<path d="M1162.5 344.7L1168.8 351L1162.5 357.3L1156.2 351Z" fill="#e94242" stroke="#111" stroke-width="1"/>
<path d="M1155.4 346.8L1161.7 353.1L1155.4 359.4L1149.1 353.1Z" fill="#e94242" stroke="#111" stroke-width="1"/>
<path d="M1163.3 317.8L1169.6 324.1L1163.3 330.4L1157 324.1Z" fill="#e94242" stroke="#111" stroke-width="1"/>
<path d="M1171.2 317.8L1177.5 324.1L1171.2 330.4L1164.9 324.1Z" fill="#e94242" stroke="#111" stroke-width="1"/>
<path d="M1166.8 325.4L1173.1 331.7L1166.8 338L1160.5 331.7Z" fill="#e94242" stroke="#111" stroke-width="1"/>
<path d="M1169.1 302L1175.4 308.3L1169.1 314.6L1162.8 308.3Z" fill="#e94242" stroke="#111" stroke-width="1"/>
<path d="M1174.4 290.3L1180.7 296.6L1174.4 302.9L1168.1 296.6Z" fill="#e94242" stroke="#111" stroke-width="1"/>
<path d="M1177.4 264L1183.7 270.3L1177.4 276.6L1171.1 270.3Z" fill="#e94242" stroke="#111" stroke-width="1"/>
<path d="M1188.4 229.6L1194.7 235.9L1188.4 242.2L1182.1 235.9Z" fill="#e94242" stroke="#111" stroke-width="1"/>
<path d="M1187 226.9L1193.3 233.2L1187 239.5L1180.7 233.2Z" fill="#e94242" stroke="#111" stroke-width="1"/>
<path d="M1221 111.6L1227.3 117.9L1221 124.2L1214.7 117.9Z" fill="#e94242" stroke="#111" stroke-width="1"/>
<path d="M1221.2 133.9L1227.5 140.2L1221.2 146.5L1214.9 140.2Z" fill="#e94242" stroke="#111" stroke-width="1"/>
<path d="M1227 154.1L1233.3 160.4L1227 166.7L1220.7 160.4Z" fill="#e94242" stroke="#111" stroke-width="1"/>
<path d="M1224.2 165.1L1230.5 171.4L1224.2 177.7L1217.9 171.4Z" fill="#e94242" stroke="#111" stroke-width="1"/>
<path d="M1230 179.1L1236.3 185.4L1230 191.7L1223.7 185.4Z" fill="#e94242" stroke="#111" stroke-width="1"/>
<path d="M1233 195.6L1239.3 201.9L1233 208.2L1226.7 201.9Z" fill="#e94242" stroke="#111" stroke-width="1"/>
<path d="M1236.1 200.2L1242.4 206.5L1236.1 212.8L1229.8 206.5Z" fill="#e94242" stroke="#111" stroke-width="1"/>
<path d="M1321.2 106.7L1327.5 113L1321.2 119.3L1314.9 113Z" fill="#e94242" stroke="#111" stroke-width="1"/>
<path d="M1327.3 111.1L1333.6 117.4L1327.3 123.7L1321 117.4Z" fill="#e94242" stroke="#111" stroke-width="1"/>
<path d="M1313.3 118.1L1319.6 124.4L1313.3 130.7L1307 124.4Z" fill="#e94242" stroke="#111" stroke-width="1"/>
<path d="M1317.7 116.3L1324 122.6L1317.7 128.9L1311.4 122.6Z" fill="#e94242" stroke="#111" stroke-width="1"/>
<path d="M1324.7 116.3L1331 122.6L1324.7 128.9L1318.4 122.6Z" fill="#e94242" stroke="#111" stroke-width="1"/>
<path d="M1330.8 118.4L1337.1 124.7L1330.8 131L1324.5 124.7Z" fill="#e94242" stroke="#111" stroke-width="1"/>
<path d="M1307.7 133L1314 139.3L1307.7 145.6L1301.4 139.3Z" fill="#e94242" stroke="#111" stroke-width="1"/>
<path d="M1311.2 137L1317.5 143.3L1311.2 149.6L1304.9 143.3Z" fill="#e94242" stroke="#111" stroke-width="1"/>
<path d="M1305.4 145.3L1311.7 151.6L1305.4 157.9L1299.1 151.6Z" fill="#e94242" stroke="#111" stroke-width="1"/>
<path d="M1334.7 144.1L1341 150.4L1334.7 156.7L1328.4 150.4Z" fill="#e94242" stroke="#111" stroke-width="1"/>
<path d="M1332.6 159.8L1338.9 166.1L1332.6 172.4L1326.3 166.1Z" fill="#e94242" stroke="#111" stroke-width="1"/>
<path d="M1338.7 162.3L1345 168.6L1338.7 174.9L1332.4 168.6Z" fill="#e94242" stroke="#111" stroke-width="1"/>
<path d="M1302.4 169L1308.7 175.3L1302.4 181.6L1296.1 175.3Z" fill="#e94242" stroke="#111" stroke-width="1"/>
<path d="M1294 193.9L1300.3 200.2L1294 206.5L1287.7 200.2Z" fill="#e94242" stroke="#111" stroke-width="1"/>
<path d="M1300.1 199.7L1306.4 206L1300.1 212.3L1293.8 206Z" fill="#e94242" stroke="#111" stroke-width="1"/>
<path d="M1296.6 206.7L1302.9 213L1296.6 219.3L1290.3 213Z" fill="#e94242" stroke="#111" stroke-width="1"/>
<path d="M1290.8 213.7L1297.1 220L1290.8 226.3L1284.5 220Z" fill="#e94242" stroke="#111" stroke-width="1"/>
<path d="M1343.1 209.3L1349.4 215.6L1343.1 221.9L1336.8 215.6Z" fill="#e94242" stroke="#111" stroke-width="1"/>
<path d="M1348.4 213.7L1354.7 220L1348.4 226.3L1342.1 220Z" fill="#e94242" stroke="#111" stroke-width="1"/>
<path d="M1237.8 228.3L1244.1 234.6L1237.8 240.9L1231.5 234.6Z" fill="#e94242" stroke="#111" stroke-width="1"/>
<path d="M1244 269.2L1250.3 275.5L1244 281.8L1237.7 275.5Z" fill="#e94242" stroke="#111" stroke-width="1"/>
<path d="M1240.5 289.8L1246.8 296.1L1240.5 302.4L1234.2 296.1Z" fill="#e94242" stroke="#111" stroke-width="1"/>
<path d="M1247 288.9L1253.3 295.2L1247 301.5L1240.7 295.2Z" fill="#e94242" stroke="#111" stroke-width="1"/>
<path d="M1252.2 295.5L1258.5 301.8L1252.2 308.1L1245.9 301.8Z" fill="#e94242" stroke="#111" stroke-width="1"/>
<path d="M1248.7 304.7L1255 311L1248.7 317.3L1242.4 311Z" fill="#e94242" stroke="#111" stroke-width="1"/>
<path d="M1254.5 330.1L1260.8 336.4L1254.5 342.7L1248.2 336.4Z" fill="#e94242" stroke="#111" stroke-width="1"/>
<path d="M1265.6 330.1L1271.9 336.4L1265.6 342.7L1259.3 336.4Z" fill="#e94242" stroke="#111" stroke-width="1"/>
<path d="M1270.3 334.5L1276.6 340.8L1270.3 347.1L1264 340.8Z" fill="#e94242" stroke="#111" stroke-width="1"/>
<path d="M1271.2 342.4L1277.5 348.7L1271.2 355L1264.9 348.7Z" fill="#e94242" stroke="#111" stroke-width="1"/>
<path d="M1258 353.4L1264.3 359.7L1258 366L1251.7 359.7Z" fill="#e94242" stroke="#111" stroke-width="1"/>
<path d="M1263.3 356.4L1269.6 362.7L1263.3 369L1257 362.7Z" fill="#e94242" stroke="#111" stroke-width="1"/>
<path d="M1273.8 304.7L1280.1 311L1273.8 317.3L1267.5 311Z" fill="#e94242" stroke="#111" stroke-width="1"/>
<path d="M1280 312.6L1286.3 318.9L1280 325.2L1273.7 318.9Z" fill="#e94242" stroke="#111" stroke-width="1"/>
<path d="M1276.8 315.5L1283.1 321.8L1276.8 328.1L1270.5 321.8Z" fill="#e94242" stroke="#111" stroke-width="1"/>
<path d="M1282.6 279.8L1288.9 286.1L1282.6 292.4L1276.3 286.1Z" fill="#e94242" stroke="#111" stroke-width="1"/>
<path d="M1285.2 245.9L1291.5 252.2L1285.2 258.5L1278.9 252.2Z" fill="#e94242" stroke="#111" stroke-width="1"/>
<path d="M1288.7 245.9L1295 252.2L1288.7 258.5L1282.4 252.2Z" fill="#e94242" stroke="#111" stroke-width="1"/>
<path d="M1346.6 240.6L1352.9 246.9L1346.6 253.2L1340.3 246.9Z" fill="#e94242" stroke="#111" stroke-width="1"/>
<path d="M1349.2 284.5L1355.5 290.8L1349.2 297.1L1342.9 290.8Z" fill="#e94242" stroke="#111" stroke-width="1"/>
<circle cx="797.9" cy="251.3" r="4.6" fill="#1b6bdb" stroke="#111" stroke-width="1"/>
<circle cx="803.7" cy="256.9" r="4.6" fill="#1b6bdb" stroke="#111" stroke-width="1"/>
<circle cx="814.6" cy="283.8" r="4.6" fill="#1b6bdb" stroke="#111" stroke-width="1"/>
<circle cx="820.7" cy="284.3" r="4.6" fill="#1b6bdb" stroke="#111" stroke-width="1"/>
<circle cx="831.2" cy="285.5" r="4.6" fill="#1b6bdb" stroke="#111" stroke-width="1"/>
<circle cx="808.9" cy="294.3" r="4.6" fill="#1b6bdb" stroke="#111" stroke-width="1"/>
<circle cx="836.5" cy="299.6" r="4.6" fill="#1b6bdb" stroke="#111" stroke-width="1"/>
<circle cx="825.1" cy="307.8" r="4.6" fill="#1b6bdb" stroke="#111" stroke-width="1"/>
<circle cx="842.3" cy="312.2" r="4.6" fill="#1b6bdb" stroke="#111" stroke-width="1"/>
<circle cx="847.9" cy="315.4" r="4.6" fill="#1b6bdb" stroke="#111" stroke-width="1"/>
<circle cx="853.5" cy="316.8" r="4.6" fill="#1b6bdb" stroke="#111" stroke-width="1"/>
<circle cx="868.9" cy="324.1" r="4.6" fill="#1b6bdb" stroke="#111" stroke-width="1"/>
<circle cx="885.6" cy="322.7" r="4.6" fill="#1b6bdb" stroke="#111" stroke-width="1"/>
<circle cx="875.1" cy="329.7" r="4.6" fill="#1b6bdb" stroke="#111" stroke-width="1"/>
<circle cx="858.4" cy="338.7" r="4.6" fill="#1b6bdb" stroke="#111" stroke-width="1"/>
<circle cx="863.7" cy="336.4" r="4.6" fill="#1b6bdb" stroke="#111" stroke-width="1"/>
<circle cx="879.8" cy="341.7" r="4.6" fill="#1b6bdb" stroke="#111" stroke-width="1"/>
<circle cx="891.4" cy="343.9" r="4.6" fill="#1b6bdb" stroke="#111" stroke-width="1"/>
<circle cx="896.1" cy="362.7" r="4.6" fill="#1b6bdb" stroke="#111" stroke-width="1"/>
<circle cx="902.3" cy="349.6" r="4.6" fill="#1b6bdb" stroke="#111" stroke-width="1"/>
<circle cx="907.5" cy="346.6" r="4.6" fill="#1b6bdb" stroke="#111" stroke-width="1"/>
<circle cx="913.7" cy="348.7" r="4.6" fill="#1b6bdb" stroke="#111" stroke-width="1"/>
<circle cx="919" cy="342.2" r="4.6" fill="#1b6bdb" stroke="#111" stroke-width="1"/>
<circle cx="924.7" cy="339.9" r="4.6" fill="#1b6bdb" stroke="#111" stroke-width="1"/>
<circle cx="929.5" cy="348.7" r="4.6" fill="#1b6bdb" stroke="#111" stroke-width="1"/>
<circle cx="935.3" cy="341.1" r="4.6" fill="#1b6bdb" stroke="#111" stroke-width="1"/>
<circle cx="1072.7" cy="229.6" r="4.6" fill="#1b6bdb" stroke="#111" stroke-width="1"/>
<circle cx="940.3" cy="361" r="4.6" fill="#1b6bdb" stroke="#111" stroke-width="1"/>
<circle cx="946.4" cy="346.1" r="4.6" fill="#1b6bdb" stroke="#111" stroke-width="1"/>
<circle cx="951.7" cy="341.7" r="4.6" fill="#1b6bdb" stroke="#111" stroke-width="1"/>
<circle cx="957.8" cy="339.9" r="4.6" fill="#1b6bdb" stroke="#111" stroke-width="1"/>
<circle cx="962.2" cy="351" r="4.6" fill="#1b6bdb" stroke="#111" stroke-width="1"/>
<circle cx="968.3" cy="351" r="4.6" fill="#1b6bdb" stroke="#111" stroke-width="1"/>
<circle cx="973.6" cy="346.4" r="4.6" fill="#1b6bdb" stroke="#111" stroke-width="1"/>
<circle cx="978.9" cy="319.4" r="4.6" fill="#1b6bdb" stroke="#111" stroke-width="1"/>
<circle cx="984.1" cy="335.9" r="4.6" fill="#1b6bdb" stroke="#111" stroke-width="1"/>
<circle cx="990.3" cy="328.9" r="4.6" fill="#1b6bdb" stroke="#111" stroke-width="1"/>
<circle cx="995.5" cy="335.2" r="4.6" fill="#1b6bdb" stroke="#111" stroke-width="1"/>
<circle cx="1001.3" cy="329.9" r="4.6" fill="#1b6bdb" stroke="#111" stroke-width="1"/>
<circle cx="1006.1" cy="292" r="4.6" fill="#1b6bdb" stroke="#111" stroke-width="1"/>
<circle cx="1011.8" cy="300.1" r="4.6" fill="#1b6bdb" stroke="#111" stroke-width="1"/>
<circle cx="1017.8" cy="302.2" r="4.6" fill="#1b6bdb" stroke="#111" stroke-width="1"/>
<circle cx="1023.6" cy="305.7" r="4.6" fill="#1b6bdb" stroke="#111" stroke-width="1"/>
<circle cx="1028.9" cy="307.8" r="4.6" fill="#1b6bdb" stroke="#111" stroke-width="1"/>
<circle cx="1033.6" cy="293.4" r="4.6" fill="#1b6bdb" stroke="#111" stroke-width="1"/>
<circle cx="1039.4" cy="277.1" r="4.6" fill="#1b6bdb" stroke="#111" stroke-width="1"/>
<circle cx="1045.2" cy="278" r="4.6" fill="#1b6bdb" stroke="#111" stroke-width="1"/>
<circle cx="1049.9" cy="262.7" r="4.6" fill="#1b6bdb" stroke="#111" stroke-width="1"/>
<circle cx="1056.1" cy="255.2" r="4.6" fill="#1b6bdb" stroke="#111" stroke-width="1"/>
<circle cx="1061" cy="267.6" r="4.6" fill="#1b6bdb" stroke="#111" stroke-width="1"/>
<circle cx="1066.6" cy="242.9" r="4.6" fill="#1b6bdb" stroke="#111" stroke-width="1"/>
<circle cx="1071.8" cy="230.6" r="4.6" fill="#1b6bdb" stroke="#111" stroke-width="1"/>
<circle cx="1078" cy="236.4" r="4.6" fill="#1b6bdb" stroke="#111" stroke-width="1"/>
<circle cx="1082.4" cy="237.3" r="4.6" fill="#1b6bdb" stroke="#111" stroke-width="1"/>
<circle cx="1086" cy="201.6" r="4.6" fill="#1b6bdb" stroke="#111" stroke-width="1"/>
<circle cx="1094" cy="201.9" r="4.6" fill="#1b6bdb" stroke="#111" stroke-width="1"/>
<circle cx="1099.3" cy="187.5" r="4.6" fill="#1b6bdb" stroke="#111" stroke-width="1"/>
<circle cx="1105.4" cy="182.3" r="4.6" fill="#1b6bdb" stroke="#111" stroke-width="1"/>
<circle cx="1110.2" cy="197.2" r="4.6" fill="#1b6bdb" stroke="#111" stroke-width="1"/>
<circle cx="1116" cy="175.3" r="4.6" fill="#1b6bdb" stroke="#111" stroke-width="1"/>
<circle cx="1121.8" cy="179.6" r="4.6" fill="#1b6bdb" stroke="#111" stroke-width="1"/>
<circle cx="1127" cy="162.6" r="4.6" fill="#1b6bdb" stroke="#111" stroke-width="1"/>
<circle cx="1132.3" cy="171.4" r="4.6" fill="#1b6bdb" stroke="#111" stroke-width="1"/>
<circle cx="1137.9" cy="148.9" r="4.6" fill="#1b6bdb" stroke="#111" stroke-width="1"/>
<circle cx="1143.2" cy="157.7" r="4.6" fill="#1b6bdb" stroke="#111" stroke-width="1"/>
<circle cx="1149.3" cy="145.4" r="4.6" fill="#1b6bdb" stroke="#111" stroke-width="1"/>
<circle cx="1155.1" cy="146.3" r="4.6" fill="#1b6bdb" stroke="#111" stroke-width="1"/>
<circle cx="1160.4" cy="150.4" r="4.6" fill="#1b6bdb" stroke="#111" stroke-width="1"/>
<circle cx="1165.4" cy="124.7" r="4.6" fill="#1b6bdb" stroke="#111" stroke-width="1"/>
<circle cx="1170.9" cy="141.1" r="4.6" fill="#1b6bdb" stroke="#111" stroke-width="1"/>
<circle cx="1176.1" cy="127" r="4.6" fill="#1b6bdb" stroke="#111" stroke-width="1"/>
<circle cx="1182.3" cy="122.3" r="4.6" fill="#1b6bdb" stroke="#111" stroke-width="1"/>
<circle cx="1187.9" cy="122.6" r="4.6" fill="#1b6bdb" stroke="#111" stroke-width="1"/>
<circle cx="1193.2" cy="114.7" r="4.6" fill="#1b6bdb" stroke="#111" stroke-width="1"/>
<circle cx="1198.4" cy="139.8" r="4.6" fill="#1b6bdb" stroke="#111" stroke-width="1"/>
<circle cx="1204.2" cy="122.1" r="4.6" fill="#1b6bdb" stroke="#111" stroke-width="1"/>
<circle cx="1209.5" cy="133.5" r="4.6" fill="#1b6bdb" stroke="#111" stroke-width="1"/>
<circle cx="1215.1" cy="123.5" r="4.6" fill="#1b6bdb" stroke="#111" stroke-width="1"/>
<circle cx="1220.2" cy="127.9" r="4.6" fill="#1b6bdb" stroke="#111" stroke-width="1"/>
<circle cx="1225.6" cy="123.5" r="4.6" fill="#1b6bdb" stroke="#111" stroke-width="1"/>
<circle cx="1231.2" cy="134" r="4.6" fill="#1b6bdb" stroke="#111" stroke-width="1"/>
<circle cx="1237.5" cy="135.8" r="4.6" fill="#1b6bdb" stroke="#111" stroke-width="1"/>
<circle cx="1242.2" cy="128.8" r="4.6" fill="#1b6bdb" stroke="#111" stroke-width="1"/>
<circle cx="1253.3" cy="123.5" r="4.6" fill="#1b6bdb" stroke="#111" stroke-width="1"/>
<circle cx="1248" cy="137.5" r="4.6" fill="#1b6bdb" stroke="#111" stroke-width="1"/>
<circle cx="1258.9" cy="144" r="4.6" fill="#1b6bdb" stroke="#111" stroke-width="1"/>
<circle cx="1264.5" cy="148.6" r="4.6" fill="#1b6bdb" stroke="#111" stroke-width="1"/>
<circle cx="1270" cy="154.6" r="4.6" fill="#1b6bdb" stroke="#111" stroke-width="1"/>
<circle cx="1275" cy="170.4" r="4.6" fill="#1b6bdb" stroke="#111" stroke-width="1"/>
<circle cx="1280.8" cy="156.8" r="4.6" fill="#1b6bdb" stroke="#111" stroke-width="1"/>
<circle cx="1287" cy="156.3" r="4.6" fill="#1b6bdb" stroke="#111" stroke-width="1"/>
<circle cx="1297.1" cy="148.6" r="4.6" fill="#1b6bdb" stroke="#111" stroke-width="1"/>
<circle cx="1291.4" cy="180.2" r="4.6" fill="#1b6bdb" stroke="#111" stroke-width="1"/>
<circle cx="1302.4" cy="185.8" r="4.6" fill="#1b6bdb" stroke="#111" stroke-width="1"/>
<circle cx="1308" cy="190.7" r="4.6" fill="#1b6bdb" stroke="#111" stroke-width="1"/>
<circle cx="1313.3" cy="199.8" r="4.6" fill="#1b6bdb" stroke="#111" stroke-width="1"/>
<circle cx="1320" cy="199.8" r="4.6" fill="#1b6bdb" stroke="#111" stroke-width="1"/>
<circle cx="1324.2" cy="215.3" r="4.6" fill="#1b6bdb" stroke="#111" stroke-width="1"/>
<circle cx="1335.2" cy="213" r="4.6" fill="#1b6bdb" stroke="#111" stroke-width="1"/>
<circle cx="1346.3" cy="220.9" r="4.6" fill="#1b6bdb" stroke="#111" stroke-width="1"/>
<circle cx="1330" cy="236.4" r="4.6" fill="#1b6bdb" stroke="#111" stroke-width="1"/>
<circle cx="1341" cy="253.1" r="4.6" fill="#1b6bdb" stroke="#111" stroke-width="1"/>
</g>
<line x1="851.2" y1="389" x2="851.2" y2="379.5" stroke="#000" stroke-width="2"/>
<line x1="851.2" y1="75.8" x2="851.2" y2="85.3" stroke="#000" stroke-width="2"/>
<line x1="961.9" y1="389" x2="961.9" y2="379.5" stroke="#000" stroke-width="2"/>
<line x1="961.9" y1="75.8" x2="961.9" y2="85.3" stroke="#000" stroke-width="2"/>
<line x1="1072.6" y1="389" x2="1072.6" y2="379.5" stroke="#000" stroke-width="2"/>
<line x1="1072.6" y1="75.8" x2="1072.6" y2="85.3" stroke="#000" stroke-width="2"/>
<line x1="1183.3" y1="389" x2="1183.3" y2="379.5" stroke="#000" stroke-width="2"/>
<line x1="1183.3" y1="75.8" x2="1183.3" y2="85.3" stroke="#000" stroke-width="2"/>
<line x1="1294" y1="389" x2="1294" y2="379.5" stroke="#000" stroke-width="2"/>
<line x1="1294" y1="75.8" x2="1294" y2="85.3" stroke="#000" stroke-width="2"/>
<line x1="823.52" y1="389" x2="823.52" y2="384.5" stroke="#000" stroke-width="2"/>
<line x1="823.52" y1="75.8" x2="823.52" y2="80.3" stroke="#000" stroke-width="2"/>
<line x1="878.87" y1="389" x2="878.87" y2="384.5" stroke="#000" stroke-width="2"/>
<line x1="878.87" y1="75.8" x2="878.87" y2="80.3" stroke="#000" stroke-width="2"/>
<line x1="906.55" y1="389" x2="906.55" y2="384.5" stroke="#000" stroke-width="2"/>
<line x1="906.55" y1="75.8" x2="906.55" y2="80.3" stroke="#000" stroke-width="2"/>
<line x1="934.22" y1="389" x2="934.22" y2="384.5" stroke="#000" stroke-width="2"/>
<line x1="934.22" y1="75.8" x2="934.22" y2="80.3" stroke="#000" stroke-width="2"/>
<line x1="989.57" y1="389" x2="989.57" y2="384.5" stroke="#000" stroke-width="2"/>
<line x1="989.57" y1="75.8" x2="989.57" y2="80.3" stroke="#000" stroke-width="2"/>
<line x1="1017.25" y1="389" x2="1017.25" y2="384.5" stroke="#000" stroke-width="2"/>
<line x1="1017.25" y1="75.8" x2="1017.25" y2="80.3" stroke="#000" stroke-width="2"/>
<line x1="1044.92" y1="389" x2="1044.92" y2="384.5" stroke="#000" stroke-width="2"/>
<line x1="1044.92" y1="75.8" x2="1044.92" y2="80.3" stroke="#000" stroke-width="2"/>
<line x1="1100.27" y1="389" x2="1100.27" y2="384.5" stroke="#000" stroke-width="2"/>
<line x1="1100.27" y1="75.8" x2="1100.27" y2="80.3" stroke="#000" stroke-width="2"/>
<line x1="1127.95" y1="389" x2="1127.95" y2="384.5" stroke="#000" stroke-width="2"/>
<line x1="1127.95" y1="75.8" x2="1127.95" y2="80.3" stroke="#000" stroke-width="2"/>
<line x1="1155.62" y1="389" x2="1155.62" y2="384.5" stroke="#000" stroke-width="2"/>
<line x1="1155.62" y1="75.8" x2="1155.62" y2="80.3" stroke="#000" stroke-width="2"/>
<line x1="1210.97" y1="389" x2="1210.97" y2="384.5" stroke="#000" stroke-width="2"/>
<line x1="1210.97" y1="75.8" x2="1210.97" y2="80.3" stroke="#000" stroke-width="2"/>
<line x1="1238.65" y1="389" x2="1238.65" y2="384.5" stroke="#000" stroke-width="2"/>
<line x1="1238.65" y1="75.8" x2="1238.65" y2="80.3" stroke="#000" stroke-width="2"/>
<line x1="1266.32" y1="389" x2="1266.32" y2="384.5" stroke="#000" stroke-width="2"/>
<line x1="1266.32" y1="75.8" x2="1266.32" y2="80.3" stroke="#000" stroke-width="2"/>
<line x1="1321.67" y1="389" x2="1321.67" y2="384.5" stroke="#000" stroke-width="2"/>
<line x1="1321.67" y1="75.8" x2="1321.67" y2="80.3" stroke="#000" stroke-width="2"/>
<line x1="796" y1="389" x2="805.5" y2="389" stroke="#000" stroke-width="2"/>
<line x1="1350" y1="389" x2="1340.5" y2="389" stroke="#000" stroke-width="2"/>
<line x1="796" y1="232.4" x2="805.5" y2="232.4" stroke="#000" stroke-width="2"/>
<line x1="1350" y1="232.4" x2="1340.5" y2="232.4" stroke="#000" stroke-width="2"/>
<line x1="796" y1="75.8" x2="805.5" y2="75.8" stroke="#000" stroke-width="2"/>
<line x1="1350" y1="75.8" x2="1340.5" y2="75.8" stroke="#000" stroke-width="2"/>
<line x1="796" y1="357.68" x2="800.5" y2="357.68" stroke="#000" stroke-width="2"/>
<line x1="1350" y1="357.68" x2="1345.5" y2="357.68" stroke="#000" stroke-width="2"/>
<line x1="796" y1="326.36" x2="800.5" y2="326.36" stroke="#000" stroke-width="2"/>
<line x1="1350" y1="326.36" x2="1345.5" y2="326.36" stroke="#000" stroke-width="2"/>
<line x1="796" y1="295.04" x2="800.5" y2="295.04" stroke="#000" stroke-width="2"/>
<line x1="1350" y1="295.04" x2="1345.5" y2="295.04" stroke="#000" stroke-width="2"/>
<line x1="796" y1="263.72" x2="800.5" y2="263.72" stroke="#000" stroke-width="2"/>
<line x1="1350" y1="263.72" x2="1345.5" y2="263.72" stroke="#000" stroke-width="2"/>
<line x1="796" y1="201.08" x2="800.5" y2="201.08" stroke="#000" stroke-width="2"/>
<line x1="1350" y1="201.08" x2="1345.5" y2="201.08" stroke="#000" stroke-width="2"/>
<line x1="796" y1="169.76" x2="800.5" y2="169.76" stroke="#000" stroke-width="2"/>
<line x1="1350" y1="169.76" x2="1345.5" y2="169.76" stroke="#000" stroke-width="2"/>
<line x1="796" y1="138.44" x2="800.5" y2="138.44" stroke="#000" stroke-width="2"/>
<line x1="1350" y1="138.44" x2="1345.5" y2="138.44" stroke="#000" stroke-width="2"/>
<line x1="796" y1="107.12" x2="800.5" y2="107.12" stroke="#000" stroke-width="2"/>
<line x1="1350" y1="107.12" x2="1345.5" y2="107.12" stroke="#000" stroke-width="2"/>
<rect x="796" y="75.8" width="554" height="313.2" fill="none" stroke="#000" stroke-width="2"/>
<text x="857.2" y="410.6" font-size="22" text-anchor="end" >−4</text>
<text x="967.9" y="410.6" font-size="22" text-anchor="end" >−2</text>
<text x="1072.6" y="410.6" font-size="22" text-anchor="middle" >0</text>
<text x="1183.3" y="410.6" font-size="22" text-anchor="middle" >2</text>
<text x="1294" y="410.6" font-size="22" text-anchor="middle" >4</text>
<text x="792.2" y="396.7" font-size="22" text-anchor="end" >0.0</text>
<text x="792.2" y="240.1" font-size="22" text-anchor="end" >0.5</text>
<text x="792.2" y="83.5" font-size="22" text-anchor="end" >1.0</text>
<text x="896.66" y="454.1" font-size="31" textLength="65.75" lengthAdjust="spacingAndGlyphs" ><tspan>laser</tspan></text>
<text x="969.98" y="454.1" font-size="31" textLength="81.25" lengthAdjust="spacingAndGlyphs" ><tspan>phase</tspan></text>
<text x="1058.26" y="454.1" font-size="31" textLength="127.81" lengthAdjust="spacingAndGlyphs" ><tspan>deviation</tspan></text>
<text x="1193.16" y="454.1" font-size="31" textLength="53.79" lengthAdjust="spacingAndGlyphs" ><tspan font-style="italic">ϕ</tspan><tspan>/π</tspan></text>
<text transform="translate(731,0) rotate(-90)" x="-391.72" y="0" font-size="31" textLength="130.93" lengthAdjust="spacingAndGlyphs" ><tspan>excitation</tspan></text>
<text transform="translate(731,0) rotate(-90)" x="-252.49" y="0" font-size="31" textLength="147.85" lengthAdjust="spacingAndGlyphs" ><tspan>probability</tspan></text>
<text transform="translate(731,0) rotate(-90)" x="-97.91" y="0" font-size="31" textLength="25.81" lengthAdjust="spacingAndGlyphs" ><tspan font-style="italic">p</tspan><tspan font-style="italic" font-size="21" dy="6.7">e</tspan></text>
<clipPath id="cc"><rect x="105" y="552.5" width="551.7" height="310.7"/></clipPath>
<g clip-path="url(#cc)">
<polyline points="92.93,541.03 94.37,541.84 95.81,542.65 97.24,543.46 98.68,544.27 100.12,545.08 101.56,545.9 103,546.71 104.44,547.52 105.88,548.33 107.32,549.14 108.76,549.95 110.2,550.76 111.64,551.57 113.08,552.39 114.52,553.2 115.96,554.01 117.4,554.82 118.84,555.63 120.28,556.44 121.72,557.25 123.16,558.06 124.6,558.87 126.04,559.68 127.48,560.49 128.92,561.3 130.36,562.12 131.8,562.93 133.24,563.74 134.67,564.55 136.11,565.36 137.55,566.17 138.99,566.98 140.43,567.79 141.87,568.6 143.31,569.41 144.75,570.22 146.19,571.03 147.63,571.84 149.07,572.65 150.51,573.45 151.95,574.26 153.39,575.07 154.83,575.88 156.27,576.69 157.71,577.5 159.15,578.31 160.59,579.12 162.03,579.93 163.47,580.73 164.91,581.54 166.35,582.35 167.79,583.16 169.23,583.97 170.67,584.77 172.11,585.58 173.54,586.39 174.98,587.2 176.42,588 177.86,588.81 179.3,589.62 180.74,590.42 182.18,591.23 183.62,592.04 185.06,592.84 186.5,593.65 187.94,594.46 189.38,595.26 190.82,596.07 192.26,596.87 193.7,597.68 195.14,598.48 196.58,599.28 198.02,600.09 199.46,600.89 200.9,601.7 202.34,602.5 203.78,603.3 205.22,604.1 206.66,604.91 208.1,605.71 209.54,606.51 210.97,607.31 212.41,608.11 213.85,608.91 215.29,609.72 216.73,610.52 218.17,611.31 219.61,612.11 221.05,612.91 222.49,613.71 223.93,614.51 225.37,615.31 226.81,616.1 228.25,616.9 229.69,617.7 231.13,618.49 232.57,619.29 234.01,620.08 235.45,620.88 236.89,621.67 238.33,622.46 239.77,623.26 241.21,624.05 242.65,624.84 244.09,625.63 245.53,626.42 246.97,627.21 248.4,628 249.84,628.79 251.28,629.57 252.72,630.36 254.16,631.15 255.6,631.93 257.04,632.72 258.48,633.5 259.92,634.28 261.36,635.06 262.8,635.84 264.24,636.62 265.68,637.4 267.12,638.18 268.56,638.96 270,639.73 271.44,640.51 272.88,641.28 274.32,642.06 275.76,642.83 277.2,643.6 278.64,644.37 280.08,645.13 281.52,645.9 282.96,646.67 284.4,647.43 285.84,648.19 287.27,648.95 288.71,649.71 290.15,650.47 291.59,651.23 293.03,651.98 294.47,652.73 295.91,653.49 297.35,654.24 298.79,654.98 300.23,655.73 301.67,656.47 303.11,657.22 304.55,657.96 305.99,658.7 307.43,659.43 308.87,660.17 310.31,660.9 311.75,661.63 313.19,662.36 314.63,663.08 316.07,663.81 317.51,664.53 318.95,665.25 320.39,665.96 321.83,666.68 323.27,667.39 324.7,668.09 326.14,668.8 327.58,669.5 329.02,670.2 330.46,670.9 331.9,671.59 333.34,672.28 334.78,672.97 336.22,673.65 337.66,674.33 339.1,675.01 340.54,675.69 341.98,676.36 343.42,677.02 344.86,677.69 346.3,678.35 347.74,679 349.18,679.66 350.62,680.3 352.06,680.95 353.5,681.59 354.94,682.23 356.38,682.86 357.82,683.49 359.26,684.11 360.7,684.73 362.13,685.34 363.57,685.95 365.01,686.56 366.45,687.16 367.89,687.76 369.33,688.35 370.77,688.94 372.21,689.52 373.65,690.1 375.09,690.67 376.53,691.23 377.97,691.8 379.41,692.35 380.85,692.9 382.29,693.45 383.73,693.99 385.17,694.52 386.61,695.05 388.05,695.58 389.49,696.1 390.93,696.61 392.37,697.12 393.81,697.62 395.25,698.11 396.69,698.6 398.13,699.09 399.57,699.56 401,700.04 402.44,700.5 403.88,700.96 405.32,701.42 406.76,701.86 408.2,702.31 409.64,702.74 411.08,703.17 412.52,703.6 413.96,704.01 415.4,704.43 416.84,704.83 418.28,705.23 419.72,705.63 421.16,706.01 422.6,706.39 424.04,706.77 425.48,707.14 426.92,707.5 428.36,707.86 429.8,708.21 431.24,708.56 432.68,708.9 434.12,709.23 435.56,709.56 437,709.88 438.43,710.2 439.87,710.51 441.31,710.81 442.75,711.11 444.19,711.4 445.63,711.69 447.07,711.97 448.51,712.25 449.95,712.52 451.39,712.79 452.83,713.05 454.27,713.3 455.71,713.55 457.15,713.8 458.59,714.04 460.03,714.27 461.47,714.5 462.91,714.73 464.35,714.95 465.79,715.16 467.23,715.38 468.67,715.58 470.11,715.78 471.55,715.98 472.99,716.17 474.43,716.36 475.86,716.54 477.3,716.72 478.74,716.9 480.18,717.07 481.62,717.24 483.06,717.4 484.5,717.56 485.94,717.72 487.38,717.87 488.82,718.02 490.26,718.16 491.7,718.3 493.14,718.44 494.58,718.58 496.02,718.71 497.46,718.84 498.9,718.96 500.34,719.08 501.78,719.2 503.22,719.32 504.66,719.43 506.1,719.54 507.54,719.64 508.98,719.75 510.42,719.85 511.86,719.95 513.3,720.05 514.73,720.14 516.17,720.23 517.61,720.32 519.05,720.41 520.49,720.49 521.93,720.57 523.37,720.65 524.81,720.73 526.25,720.81 527.69,720.88 529.13,720.95 530.57,721.02 532.01,721.09 533.45,721.15 534.89,721.22 536.33,721.28 537.77,721.34 539.21,721.4 540.65,721.46 542.09,721.51 543.53,721.57 544.97,721.62 546.41,721.67 547.85,721.72 549.29,721.77 550.73,721.82 552.16,721.86 553.6,721.91 555.04,721.95 556.48,722 557.92,722.04 559.36,722.08 560.8,722.11 562.24,722.15 563.68,722.19 565.12,722.22 566.56,722.26 568,722.29 569.44,722.33 570.88,722.36 572.32,722.39 573.76,722.42 575.2,722.45 576.64,722.48 578.08,722.5 579.52,722.53 580.96,722.56 582.4,722.58 583.84,722.6 585.28,722.63 586.72,722.65 588.16,722.67 589.59,722.7 591.03,722.72 592.47,722.74 593.91,722.76 595.35,722.78 596.79,722.8 598.23,722.81 599.67,722.83 601.11,722.85 602.55,722.87 603.99,722.88 605.43,722.9 606.87,722.91 608.31,722.93 609.75,722.94 611.19,722.96 612.63,722.97 614.07,722.98 615.51,723 616.95,723.01 618.39,723.02 619.83,723.03 621.27,723.04 622.71,723.05 624.15,723.07 625.59,723.08 627.03,723.09 628.46,723.1 629.9,723.11 631.34,723.11 632.78,723.12 634.22,723.13 635.66,723.14 637.1,723.15 638.54,723.16 639.98,723.17 641.42,723.17 642.86,723.18 644.3,723.19 645.74,723.19 647.18,723.2 648.62,723.21 650.06,723.21 651.5,723.22 652.94,723.23 654.38,723.23 655.82,723.24 657.26,723.24 658.7,723.25 660.14,723.25 661.58,723.26 663.02,723.26 664.46,723.27 665.89,723.27 667.33,723.28 668.77,723.28" fill="none" stroke="#1b6bdb" stroke-width="2.3"/>
<polyline points="92.93,713.75 94.37,714.61 95.81,715.46 97.24,716.31 98.68,717.16 100.12,718.01 101.56,718.86 103,719.71 104.44,720.56 105.88,721.41 107.32,722.26 108.76,723.11 110.2,723.96 111.64,724.8 113.08,725.65 114.52,726.49 115.96,727.34 117.4,728.18 118.84,729.03 120.28,729.87 121.72,730.71 123.16,731.56 124.6,732.4 126.04,733.24 127.48,734.08 128.92,734.92 130.36,735.75 131.8,736.59 133.24,737.43 134.67,738.26 136.11,739.1 137.55,739.93 138.99,740.76 140.43,741.59 141.87,742.42 143.31,743.25 144.75,744.08 146.19,744.91 147.63,745.73 149.07,746.56 150.51,747.38 151.95,748.2 153.39,749.03 154.83,749.84 156.27,750.66 157.71,751.48 159.15,752.29 160.59,753.11 162.03,753.92 163.47,754.73 164.91,755.54 166.35,756.35 167.79,757.15 169.23,757.96 170.67,758.76 172.11,759.56 173.54,760.36 174.98,761.15 176.42,761.94 177.86,762.74 179.3,763.53 180.74,764.31 182.18,765.1 183.62,765.88 185.06,766.66 186.5,767.44 187.94,768.21 189.38,768.99 190.82,769.76 192.26,770.52 193.7,771.29 195.14,772.05 196.58,772.81 198.02,773.57 199.46,774.32 200.9,775.07 202.34,775.81 203.78,776.56 205.22,777.3 206.66,778.03 208.1,778.76 209.54,779.49 210.97,780.22 212.41,780.94 213.85,781.66 215.29,782.37 216.73,783.08 218.17,783.79 219.61,784.49 221.05,785.19 222.49,785.88 223.93,786.57 225.37,787.25 226.81,787.93 228.25,788.6 229.69,789.27 231.13,789.94 232.57,790.6 234.01,791.25 235.45,791.9 236.89,792.55 238.33,793.19 239.77,793.82 241.21,794.45 242.65,795.07 244.09,795.69 245.53,796.3 246.97,796.91 248.4,797.51 249.84,798.1 251.28,798.69 252.72,799.27 254.16,799.85 255.6,800.42 257.04,800.98 258.48,801.54 259.92,802.09 261.36,802.64 262.8,803.18 264.24,803.71 265.68,804.23 267.12,804.75 268.56,805.27 270,805.77 271.44,806.27 272.88,806.76 274.32,807.25 275.76,807.73 277.2,808.2 278.64,808.66 280.08,809.12 281.52,809.57 282.96,810.02 284.4,810.45 285.84,810.88 287.27,811.31 288.71,811.72 290.15,812.13 291.59,812.54 293.03,812.93 294.47,813.32 295.91,813.7 297.35,814.08 298.79,814.45 300.23,814.81 301.67,815.17 303.11,815.52 304.55,815.86 305.99,816.19 307.43,816.52 308.87,816.85 310.31,817.16 311.75,817.47 313.19,817.77 314.63,818.07 316.07,818.36 317.51,818.65 318.95,818.93 320.39,819.2 321.83,819.47 323.27,819.73 324.7,819.98 326.14,820.23 327.58,820.48 329.02,820.72 330.46,820.95 331.9,821.18 333.34,821.4 334.78,821.62 336.22,821.83 337.66,822.04 339.1,822.24 340.54,822.44 341.98,822.63 343.42,822.82 344.86,823 346.3,823.18 347.74,823.35 349.18,823.52 350.62,823.69 352.06,823.85 353.5,824 354.94,824.16 356.38,824.31 357.82,824.45 359.26,824.59 360.7,824.73 362.13,824.86 363.57,824.99 365.01,825.12 366.45,825.25 367.89,825.37 369.33,825.48 370.77,825.6 372.21,825.71 373.65,825.81 375.09,825.92 376.53,826.02 377.97,826.12 379.41,826.21 380.85,826.31 382.29,826.4 383.73,826.49 385.17,826.57 386.61,826.66 388.05,826.74 389.49,826.82 390.93,826.89 392.37,826.97 393.81,827.04 395.25,827.11 396.69,827.18 398.13,827.24 399.57,827.31 401,827.37 402.44,827.43 403.88,827.49 405.32,827.54 406.76,827.6 408.2,827.65 409.64,827.71 411.08,827.76 412.52,827.81 413.96,827.85 415.4,827.9 416.84,827.94 418.28,827.99 419.72,828.03 421.16,828.07 422.6,828.11 424.04,828.15 425.48,828.19 426.92,828.22 428.36,828.26 429.8,828.29 431.24,828.32 432.68,828.36 434.12,828.39 435.56,828.42 437,828.45 438.43,828.47 439.87,828.5 441.31,828.53 442.75,828.55 444.19,828.58 445.63,828.6 447.07,828.63 448.51,828.65 449.95,828.67 451.39,828.69 452.83,828.71 454.27,828.74 455.71,828.75 457.15,828.77 458.59,828.79 460.03,828.81 461.47,828.83 462.91,828.84 464.35,828.86 465.79,828.88 467.23,828.89 468.67,828.91 470.11,828.92 471.55,828.93 472.99,828.95 474.43,828.96 475.86,828.97 477.3,828.98 478.74,829 480.18,829.01 481.62,829.02 483.06,829.03 484.5,829.04 485.94,829.05 487.38,829.06 488.82,829.07 490.26,829.08 491.7,829.09 493.14,829.1 494.58,829.11 496.02,829.11 497.46,829.12 498.9,829.13 500.34,829.14 501.78,829.14 503.22,829.15 504.66,829.16 506.1,829.16 507.54,829.17 508.98,829.18 510.42,829.18 511.86,829.19 513.3,829.19 514.73,829.2 516.17,829.2 517.61,829.21 519.05,829.21 520.49,829.22 521.93,829.22 523.37,829.23 524.81,829.23 526.25,829.24 527.69,829.24 529.13,829.24 530.57,829.25 532.01,829.25 533.45,829.25 534.89,829.26 536.33,829.26 537.77,829.26 539.21,829.27 540.65,829.27 542.09,829.27 543.53,829.28 544.97,829.28 546.41,829.28 547.85,829.28 549.29,829.29 550.73,829.29 552.16,829.29 553.6,829.29 555.04,829.3 556.48,829.3 557.92,829.3 559.36,829.3 560.8,829.3 562.24,829.31 563.68,829.31 565.12,829.31 566.56,829.31 568,829.31 569.44,829.32 570.88,829.32 572.32,829.32 573.76,829.32 575.2,829.32 576.64,829.32 578.08,829.32 579.52,829.33 580.96,829.33 582.4,829.33 583.84,829.33 585.28,829.33 586.72,829.33 588.16,829.33 589.59,829.33 591.03,829.33 592.47,829.34 593.91,829.34 595.35,829.34 596.79,829.34 598.23,829.34 599.67,829.34 601.11,829.34 602.55,829.34 603.99,829.34 605.43,829.34 606.87,829.34 608.31,829.34 609.75,829.34 611.19,829.35 612.63,829.35 614.07,829.35 615.51,829.35 616.95,829.35 618.39,829.35 619.83,829.35 621.27,829.35 622.71,829.35 624.15,829.35 625.59,829.35 627.03,829.35 628.46,829.35 629.9,829.35 631.34,829.35 632.78,829.35 634.22,829.35 635.66,829.35 637.1,829.35 638.54,829.35 639.98,829.35 641.42,829.36 642.86,829.36 644.3,829.36 645.74,829.36 647.18,829.36 648.62,829.36 650.06,829.36 651.5,829.36 652.94,829.36 654.38,829.36 655.82,829.36 657.26,829.36 658.7,829.36 660.14,829.36 661.58,829.36 663.02,829.36 664.46,829.36 665.89,829.36 667.33,829.36 668.77,829.36" fill="none" stroke="#2ea664" stroke-width="2.3"/>
</g>
<line x1="104" y1="864.2" x2="104" y2="854.7" stroke="#000" stroke-width="2"/>
<line x1="104" y1="551.5" x2="104" y2="561" stroke="#000" stroke-width="2"/>
<line x1="214.74" y1="864.2" x2="214.74" y2="854.7" stroke="#000" stroke-width="2"/>
<line x1="214.74" y1="551.5" x2="214.74" y2="561" stroke="#000" stroke-width="2"/>
<line x1="325.48" y1="864.2" x2="325.48" y2="854.7" stroke="#000" stroke-width="2"/>
<line x1="325.48" y1="551.5" x2="325.48" y2="561" stroke="#000" stroke-width="2"/>
<line x1="436.22" y1="864.2" x2="436.22" y2="854.7" stroke="#000" stroke-width="2"/>
<line x1="436.22" y1="551.5" x2="436.22" y2="561" stroke="#000" stroke-width="2"/>
<line x1="546.96" y1="864.2" x2="546.96" y2="854.7" stroke="#000" stroke-width="2"/>
<line x1="546.96" y1="551.5" x2="546.96" y2="561" stroke="#000" stroke-width="2"/>
<line x1="657.7" y1="864.2" x2="657.7" y2="854.7" stroke="#000" stroke-width="2"/>
<line x1="657.7" y1="551.5" x2="657.7" y2="561" stroke="#000" stroke-width="2"/>
<line x1="137.34" y1="864.2" x2="137.34" y2="859.7" stroke="#000" stroke-width="2"/>
<line x1="137.34" y1="551.5" x2="137.34" y2="556" stroke="#000" stroke-width="2"/>
<line x1="156.84" y1="864.2" x2="156.84" y2="859.7" stroke="#000" stroke-width="2"/>
<line x1="156.84" y1="551.5" x2="156.84" y2="556" stroke="#000" stroke-width="2"/>
<line x1="170.67" y1="864.2" x2="170.67" y2="859.7" stroke="#000" stroke-width="2"/>
<line x1="170.67" y1="551.5" x2="170.67" y2="556" stroke="#000" stroke-width="2"/>
<line x1="181.4" y1="864.2" x2="181.4" y2="859.7" stroke="#000" stroke-width="2"/>
<line x1="181.4" y1="551.5" x2="181.4" y2="556" stroke="#000" stroke-width="2"/>
<line x1="190.17" y1="864.2" x2="190.17" y2="859.7" stroke="#000" stroke-width="2"/>
<line x1="190.17" y1="551.5" x2="190.17" y2="556" stroke="#000" stroke-width="2"/>
<line x1="197.59" y1="864.2" x2="197.59" y2="859.7" stroke="#000" stroke-width="2"/>
<line x1="197.59" y1="551.5" x2="197.59" y2="556" stroke="#000" stroke-width="2"/>
<line x1="204.01" y1="864.2" x2="204.01" y2="859.7" stroke="#000" stroke-width="2"/>
<line x1="204.01" y1="551.5" x2="204.01" y2="556" stroke="#000" stroke-width="2"/>
<line x1="209.67" y1="864.2" x2="209.67" y2="859.7" stroke="#000" stroke-width="2"/>
<line x1="209.67" y1="551.5" x2="209.67" y2="556" stroke="#000" stroke-width="2"/>
<line x1="248.08" y1="864.2" x2="248.08" y2="859.7" stroke="#000" stroke-width="2"/>
<line x1="248.08" y1="551.5" x2="248.08" y2="556" stroke="#000" stroke-width="2"/>
<line x1="267.58" y1="864.2" x2="267.58" y2="859.7" stroke="#000" stroke-width="2"/>
<line x1="267.58" y1="551.5" x2="267.58" y2="556" stroke="#000" stroke-width="2"/>
<line x1="281.41" y1="864.2" x2="281.41" y2="859.7" stroke="#000" stroke-width="2"/>
<line x1="281.41" y1="551.5" x2="281.41" y2="556" stroke="#000" stroke-width="2"/>
<line x1="292.14" y1="864.2" x2="292.14" y2="859.7" stroke="#000" stroke-width="2"/>
<line x1="292.14" y1="551.5" x2="292.14" y2="556" stroke="#000" stroke-width="2"/>
<line x1="300.91" y1="864.2" x2="300.91" y2="859.7" stroke="#000" stroke-width="2"/>
<line x1="300.91" y1="551.5" x2="300.91" y2="556" stroke="#000" stroke-width="2"/>
<line x1="308.33" y1="864.2" x2="308.33" y2="859.7" stroke="#000" stroke-width="2"/>
<line x1="308.33" y1="551.5" x2="308.33" y2="556" stroke="#000" stroke-width="2"/>
<line x1="314.75" y1="864.2" x2="314.75" y2="859.7" stroke="#000" stroke-width="2"/>
<line x1="314.75" y1="551.5" x2="314.75" y2="556" stroke="#000" stroke-width="2"/>
<line x1="320.41" y1="864.2" x2="320.41" y2="859.7" stroke="#000" stroke-width="2"/>
<line x1="320.41" y1="551.5" x2="320.41" y2="556" stroke="#000" stroke-width="2"/>
<line x1="358.82" y1="864.2" x2="358.82" y2="859.7" stroke="#000" stroke-width="2"/>
<line x1="358.82" y1="551.5" x2="358.82" y2="556" stroke="#000" stroke-width="2"/>
<line x1="378.32" y1="864.2" x2="378.32" y2="859.7" stroke="#000" stroke-width="2"/>
<line x1="378.32" y1="551.5" x2="378.32" y2="556" stroke="#000" stroke-width="2"/>
<line x1="392.15" y1="864.2" x2="392.15" y2="859.7" stroke="#000" stroke-width="2"/>
<line x1="392.15" y1="551.5" x2="392.15" y2="556" stroke="#000" stroke-width="2"/>
<line x1="402.88" y1="864.2" x2="402.88" y2="859.7" stroke="#000" stroke-width="2"/>
<line x1="402.88" y1="551.5" x2="402.88" y2="556" stroke="#000" stroke-width="2"/>
<line x1="411.65" y1="864.2" x2="411.65" y2="859.7" stroke="#000" stroke-width="2"/>
<line x1="411.65" y1="551.5" x2="411.65" y2="556" stroke="#000" stroke-width="2"/>
<line x1="419.07" y1="864.2" x2="419.07" y2="859.7" stroke="#000" stroke-width="2"/>
<line x1="419.07" y1="551.5" x2="419.07" y2="556" stroke="#000" stroke-width="2"/>
<line x1="425.49" y1="864.2" x2="425.49" y2="859.7" stroke="#000" stroke-width="2"/>
<line x1="425.49" y1="551.5" x2="425.49" y2="556" stroke="#000" stroke-width="2"/>
<line x1="431.15" y1="864.2" x2="431.15" y2="859.7" stroke="#000" stroke-width="2"/>
<line x1="431.15" y1="551.5" x2="431.15" y2="556" stroke="#000" stroke-width="2"/>
<line x1="469.56" y1="864.2" x2="469.56" y2="859.7" stroke="#000" stroke-width="2"/>
<line x1="469.56" y1="551.5" x2="469.56" y2="556" stroke="#000" stroke-width="2"/>
<line x1="489.06" y1="864.2" x2="489.06" y2="859.7" stroke="#000" stroke-width="2"/>
<line x1="489.06" y1="551.5" x2="489.06" y2="556" stroke="#000" stroke-width="2"/>
<line x1="502.89" y1="864.2" x2="502.89" y2="859.7" stroke="#000" stroke-width="2"/>
<line x1="502.89" y1="551.5" x2="502.89" y2="556" stroke="#000" stroke-width="2"/>
<line x1="513.62" y1="864.2" x2="513.62" y2="859.7" stroke="#000" stroke-width="2"/>
<line x1="513.62" y1="551.5" x2="513.62" y2="556" stroke="#000" stroke-width="2"/>
<line x1="522.39" y1="864.2" x2="522.39" y2="859.7" stroke="#000" stroke-width="2"/>
<line x1="522.39" y1="551.5" x2="522.39" y2="556" stroke="#000" stroke-width="2"/>
<line x1="529.81" y1="864.2" x2="529.81" y2="859.7" stroke="#000" stroke-width="2"/>
<line x1="529.81" y1="551.5" x2="529.81" y2="556" stroke="#000" stroke-width="2"/>
<line x1="536.23" y1="864.2" x2="536.23" y2="859.7" stroke="#000" stroke-width="2"/>
<line x1="536.23" y1="551.5" x2="536.23" y2="556" stroke="#000" stroke-width="2"/>
<line x1="541.89" y1="864.2" x2="541.89" y2="859.7" stroke="#000" stroke-width="2"/>
<line x1="541.89" y1="551.5" x2="541.89" y2="556" stroke="#000" stroke-width="2"/>
<line x1="580.3" y1="864.2" x2="580.3" y2="859.7" stroke="#000" stroke-width="2"/>
<line x1="580.3" y1="551.5" x2="580.3" y2="556" stroke="#000" stroke-width="2"/>
<line x1="599.8" y1="864.2" x2="599.8" y2="859.7" stroke="#000" stroke-width="2"/>
<line x1="599.8" y1="551.5" x2="599.8" y2="556" stroke="#000" stroke-width="2"/>
<line x1="613.63" y1="864.2" x2="613.63" y2="859.7" stroke="#000" stroke-width="2"/>
<line x1="613.63" y1="551.5" x2="613.63" y2="556" stroke="#000" stroke-width="2"/>
<line x1="624.36" y1="864.2" x2="624.36" y2="859.7" stroke="#000" stroke-width="2"/>
<line x1="624.36" y1="551.5" x2="624.36" y2="556" stroke="#000" stroke-width="2"/>
<line x1="633.13" y1="864.2" x2="633.13" y2="859.7" stroke="#000" stroke-width="2"/>
<line x1="633.13" y1="551.5" x2="633.13" y2="556" stroke="#000" stroke-width="2"/>
<line x1="640.55" y1="864.2" x2="640.55" y2="859.7" stroke="#000" stroke-width="2"/>
<line x1="640.55" y1="551.5" x2="640.55" y2="556" stroke="#000" stroke-width="2"/>
<line x1="646.97" y1="864.2" x2="646.97" y2="859.7" stroke="#000" stroke-width="2"/>
<line x1="646.97" y1="551.5" x2="646.97" y2="556" stroke="#000" stroke-width="2"/>
<line x1="652.63" y1="864.2" x2="652.63" y2="859.7" stroke="#000" stroke-width="2"/>
<line x1="652.63" y1="551.5" x2="652.63" y2="556" stroke="#000" stroke-width="2"/>
<line x1="104" y1="864.2" x2="113.5" y2="864.2" stroke="#000" stroke-width="2"/>
<line x1="657.7" y1="864.2" x2="648.2" y2="864.2" stroke="#000" stroke-width="2"/>
<line x1="104" y1="801.66" x2="113.5" y2="801.66" stroke="#000" stroke-width="2"/>
<line x1="657.7" y1="801.66" x2="648.2" y2="801.66" stroke="#000" stroke-width="2"/>
<line x1="104" y1="739.12" x2="113.5" y2="739.12" stroke="#000" stroke-width="2"/>
<line x1="657.7" y1="739.12" x2="648.2" y2="739.12" stroke="#000" stroke-width="2"/>
<line x1="104" y1="676.58" x2="113.5" y2="676.58" stroke="#000" stroke-width="2"/>
<line x1="657.7" y1="676.58" x2="648.2" y2="676.58" stroke="#000" stroke-width="2"/>
<line x1="104" y1="614.04" x2="113.5" y2="614.04" stroke="#000" stroke-width="2"/>
<line x1="657.7" y1="614.04" x2="648.2" y2="614.04" stroke="#000" stroke-width="2"/>
<line x1="104" y1="551.5" x2="113.5" y2="551.5" stroke="#000" stroke-width="2"/>
<line x1="657.7" y1="551.5" x2="648.2" y2="551.5" stroke="#000" stroke-width="2"/>
<line x1="104" y1="845.37" x2="108.5" y2="845.37" stroke="#000" stroke-width="2"/>
<line x1="657.7" y1="845.37" x2="653.2" y2="845.37" stroke="#000" stroke-width="2"/>
<line x1="104" y1="834.36" x2="108.5" y2="834.36" stroke="#000" stroke-width="2"/>
<line x1="657.7" y1="834.36" x2="653.2" y2="834.36" stroke="#000" stroke-width="2"/>
<line x1="104" y1="826.55" x2="108.5" y2="826.55" stroke="#000" stroke-width="2"/>
<line x1="657.7" y1="826.55" x2="653.2" y2="826.55" stroke="#000" stroke-width="2"/>
<line x1="104" y1="820.49" x2="108.5" y2="820.49" stroke="#000" stroke-width="2"/>
<line x1="657.7" y1="820.49" x2="653.2" y2="820.49" stroke="#000" stroke-width="2"/>
<line x1="104" y1="815.53" x2="108.5" y2="815.53" stroke="#000" stroke-width="2"/>
<line x1="657.7" y1="815.53" x2="653.2" y2="815.53" stroke="#000" stroke-width="2"/>
<line x1="104" y1="811.35" x2="108.5" y2="811.35" stroke="#000" stroke-width="2"/>
<line x1="657.7" y1="811.35" x2="653.2" y2="811.35" stroke="#000" stroke-width="2"/>
<line x1="104" y1="807.72" x2="108.5" y2="807.72" stroke="#000" stroke-width="2"/>
<line x1="657.7" y1="807.72" x2="653.2" y2="807.72" stroke="#000" stroke-width="2"/>
<line x1="104" y1="804.52" x2="108.5" y2="804.52" stroke="#000" stroke-width="2"/>
<line x1="657.7" y1="804.52" x2="653.2" y2="804.52" stroke="#000" stroke-width="2"/>
<line x1="104" y1="782.83" x2="108.5" y2="782.83" stroke="#000" stroke-width="2"/>
<line x1="657.7" y1="782.83" x2="653.2" y2="782.83" stroke="#000" stroke-width="2"/>
<line x1="104" y1="771.82" x2="108.5" y2="771.82" stroke="#000" stroke-width="2"/>
<line x1="657.7" y1="771.82" x2="653.2" y2="771.82" stroke="#000" stroke-width="2"/>
<line x1="104" y1="764.01" x2="108.5" y2="764.01" stroke="#000" stroke-width="2"/>
<line x1="657.7" y1="764.01" x2="653.2" y2="764.01" stroke="#000" stroke-width="2"/>
<line x1="104" y1="757.95" x2="108.5" y2="757.95" stroke="#000" stroke-width="2"/>
<line x1="657.7" y1="757.95" x2="653.2" y2="757.95" stroke="#000" stroke-width="2"/>
<line x1="104" y1="752.99" x2="108.5" y2="752.99" stroke="#000" stroke-width="2"/>
<line x1="657.7" y1="752.99" x2="653.2" y2="752.99" stroke="#000" stroke-width="2"/>
<line x1="104" y1="748.81" x2="108.5" y2="748.81" stroke="#000" stroke-width="2"/>
<line x1="657.7" y1="748.81" x2="653.2" y2="748.81" stroke="#000" stroke-width="2"/>
<line x1="104" y1="745.18" x2="108.5" y2="745.18" stroke="#000" stroke-width="2"/>
<line x1="657.7" y1="745.18" x2="653.2" y2="745.18" stroke="#000" stroke-width="2"/>
<line x1="104" y1="741.98" x2="108.5" y2="741.98" stroke="#000" stroke-width="2"/>
<line x1="657.7" y1="741.98" x2="653.2" y2="741.98" stroke="#000" stroke-width="2"/>
<line x1="104" y1="720.29" x2="108.5" y2="720.29" stroke="#000" stroke-width="2"/>
<line x1="657.7" y1="720.29" x2="653.2" y2="720.29" stroke="#000" stroke-width="2"/>
<line x1="104" y1="709.28" x2="108.5" y2="709.28" stroke="#000" stroke-width="2"/>
<line x1="657.7" y1="709.28" x2="653.2" y2="709.28" stroke="#000" stroke-width="2"/>
<line x1="104" y1="701.47" x2="108.5" y2="701.47" stroke="#000" stroke-width="2"/>
<line x1="657.7" y1="701.47" x2="653.2" y2="701.47" stroke="#000" stroke-width="2"/>
<line x1="104" y1="695.41" x2="108.5" y2="695.41" stroke="#000" stroke-width="2"/>
<line x1="657.7" y1="695.41" x2="653.2" y2="695.41" stroke="#000" stroke-width="2"/>
<line x1="104" y1="690.45" x2="108.5" y2="690.45" stroke="#000" stroke-width="2"/>
<line x1="657.7" y1="690.45" x2="653.2" y2="690.45" stroke="#000" stroke-width="2"/>
<line x1="104" y1="686.27" x2="108.5" y2="686.27" stroke="#000" stroke-width="2"/>
<line x1="657.7" y1="686.27" x2="653.2" y2="686.27" stroke="#000" stroke-width="2"/>
<line x1="104" y1="682.64" x2="108.5" y2="682.64" stroke="#000" stroke-width="2"/>
<line x1="657.7" y1="682.64" x2="653.2" y2="682.64" stroke="#000" stroke-width="2"/>
<line x1="104" y1="679.44" x2="108.5" y2="679.44" stroke="#000" stroke-width="2"/>
<line x1="657.7" y1="679.44" x2="653.2" y2="679.44" stroke="#000" stroke-width="2"/>
<line x1="104" y1="657.75" x2="108.5" y2="657.75" stroke="#000" stroke-width="2"/>
<line x1="657.7" y1="657.75" x2="653.2" y2="657.75" stroke="#000" stroke-width="2"/>
<line x1="104" y1="646.74" x2="108.5" y2="646.74" stroke="#000" stroke-width="2"/>
<line x1="657.7" y1="646.74" x2="653.2" y2="646.74" stroke="#000" stroke-width="2"/>
<line x1="104" y1="638.93" x2="108.5" y2="638.93" stroke="#000" stroke-width="2"/>
<line x1="657.7" y1="638.93" x2="653.2" y2="638.93" stroke="#000" stroke-width="2"/>
<line x1="104" y1="632.87" x2="108.5" y2="632.87" stroke="#000" stroke-width="2"/>
<line x1="657.7" y1="632.87" x2="653.2" y2="632.87" stroke="#000" stroke-width="2"/>
<line x1="104" y1="627.91" x2="108.5" y2="627.91" stroke="#000" stroke-width="2"/>
<line x1="657.7" y1="627.91" x2="653.2" y2="627.91" stroke="#000" stroke-width="2"/>
<line x1="104" y1="623.73" x2="108.5" y2="623.73" stroke="#000" stroke-width="2"/>
<line x1="657.7" y1="623.73" x2="653.2" y2="623.73" stroke="#000" stroke-width="2"/>
<line x1="104" y1="620.1" x2="108.5" y2="620.1" stroke="#000" stroke-width="2"/>
<line x1="657.7" y1="620.1" x2="653.2" y2="620.1" stroke="#000" stroke-width="2"/>
<line x1="104" y1="616.9" x2="108.5" y2="616.9" stroke="#000" stroke-width="2"/>
<line x1="657.7" y1="616.9" x2="653.2" y2="616.9" stroke="#000" stroke-width="2"/>
<line x1="104" y1="595.21" x2="108.5" y2="595.21" stroke="#000" stroke-width="2"/>
<line x1="657.7" y1="595.21" x2="653.2" y2="595.21" stroke="#000" stroke-width="2"/>
<line x1="104" y1="584.2" x2="108.5" y2="584.2" stroke="#000" stroke-width="2"/>
<line x1="657.7" y1="584.2" x2="653.2" y2="584.2" stroke="#000" stroke-width="2"/>
<line x1="104" y1="576.39" x2="108.5" y2="576.39" stroke="#000" stroke-width="2"/>
<line x1="657.7" y1="576.39" x2="653.2" y2="576.39" stroke="#000" stroke-width="2"/>
<line x1="104" y1="570.33" x2="108.5" y2="570.33" stroke="#000" stroke-width="2"/>
<line x1="657.7" y1="570.33" x2="653.2" y2="570.33" stroke="#000" stroke-width="2"/>
<line x1="104" y1="565.37" x2="108.5" y2="565.37" stroke="#000" stroke-width="2"/>
<line x1="657.7" y1="565.37" x2="653.2" y2="565.37" stroke="#000" stroke-width="2"/>
<line x1="104" y1="561.19" x2="108.5" y2="561.19" stroke="#000" stroke-width="2"/>
<line x1="657.7" y1="561.19" x2="653.2" y2="561.19" stroke="#000" stroke-width="2"/>
<line x1="104" y1="557.56" x2="108.5" y2="557.56" stroke="#000" stroke-width="2"/>
<line x1="657.7" y1="557.56" x2="653.2" y2="557.56" stroke="#000" stroke-width="2"/>
<line x1="104" y1="554.36" x2="108.5" y2="554.36" stroke="#000" stroke-width="2"/>
<line x1="657.7" y1="554.36" x2="653.2" y2="554.36" stroke="#000" stroke-width="2"/>
<rect x="104" y="551.5" width="553.7" height="312.7" fill="none" stroke="#000" stroke-width="2"/>
<text x="104" y="885.8" font-size="22" text-anchor="middle" >10</text>
<text x="115.8" y="877.5" font-size="14" text-anchor="start" >−2</text>
<text x="214.74" y="885.8" font-size="22" text-anchor="middle" >10</text>
<text x="226.54" y="877.5" font-size="14" text-anchor="start" >−1</text>
<text x="325.48" y="885.8" font-size="22" text-anchor="middle" >1</text>
<text x="436.22" y="885.8" font-size="22" text-anchor="middle" >10</text>
<text x="546.96" y="885.8" font-size="22" text-anchor="middle" >10</text>
<text x="558.76" y="877.5" font-size="14" text-anchor="start" >2</text>
<text x="657.7" y="885.8" font-size="22" text-anchor="middle" >10</text>
<text x="669.5" y="877.5" font-size="14" text-anchor="start" >3</text>
<text x="101.5" y="863.4" font-size="14" text-anchor="end" >−33</text>
<text x="76.2" y="871.8" font-size="22" text-anchor="end" >10</text>
<text x="101.5" y="800.86" font-size="14" text-anchor="end" >−32</text>
<text x="76.2" y="809.26" font-size="22" text-anchor="end" >10</text>
<text x="101.5" y="738.32" font-size="14" text-anchor="end" >−31</text>
<text x="76.2" y="746.72" font-size="22" text-anchor="end" >10</text>
<text x="101.5" y="675.78" font-size="14" text-anchor="end" >−30</text>
<text x="76.2" y="684.18" font-size="22" text-anchor="end" >10</text>
<text x="101.5" y="613.24" font-size="14" text-anchor="end" >−29</text>
<text x="76.2" y="621.64" font-size="22" text-anchor="end" >10</text>
<text x="101.5" y="550.7" font-size="14" text-anchor="end" >−28</text>
<text x="76.2" y="559.1" font-size="22" text-anchor="end" >10</text>
<text x="218.45" y="929.3" font-size="31" textLength="98.36" lengthAdjust="spacingAndGlyphs" ><tspan>Fourier</tspan></text>
<text x="324.66" y="929.3" font-size="31" textLength="136.70" lengthAdjust="spacingAndGlyphs" ><tspan>frequency</tspan></text>
<text x="467.17" y="929.3" font-size="31" textLength="9.04" lengthAdjust="spacingAndGlyphs" ><tspan font-style="italic">f</tspan></text>
<text x="486.70" y="929.3" font-size="31" textLength="54.69" lengthAdjust="spacingAndGlyphs" ><tspan>(Hz)</tspan></text>
<text transform="translate(38.7,0) rotate(-90)" x="-809.07" y="0" font-size="31" textLength="74.35" lengthAdjust="spacingAndGlyphs" ><tspan>noise</tspan></text>
<text transform="translate(38.7,0) rotate(-90)" x="-726.70" y="0" font-size="31" textLength="50.06" lengthAdjust="spacingAndGlyphs" ><tspan>PSD</tspan></text>
<text transform="translate(38.7,0) rotate(-90)" x="-667.17" y="0" font-size="31" textLength="59.90" lengthAdjust="spacingAndGlyphs" ><tspan font-style="italic">S</tspan><tspan font-style="italic" font-size="21" dy="6">y</tspan><tspan font-style="italic" dy="-6">(f)</tspan></text>
<g clip-path="url(#cd)">
<polygon points="795.85,864.6 795.85,864.6 796.54,864.6 797.23,864.6 797.93,864.6 798.62,864.6 799.31,864.6 800,864.6 800.69,864.6 801.38,864.6 802.08,864.6 802.77,864.6 803.46,864.6 804.15,864.6 804.84,864.6 805.54,864.6 806.23,864.6 806.92,864.6 807.61,864.6 808.3,864.6 809,864.6 809.69,864.6 810.38,864.6 811.07,864.6 811.76,864.6 812.45,864.6 813.15,864.6 813.84,864.6 814.53,864.6 815.22,864.6 815.91,864.6 816.61,864.6 817.3,864.6 817.99,864.6 818.68,864.6 819.37,864.6 820.07,864.6 820.76,864.6 821.45,864.6 822.14,864.6 822.83,864.6 823.52,864.6 824.22,864.6 824.91,864.6 825.6,864.6 826.29,864.6 826.98,864.6 827.68,864.6 828.37,864.6 829.06,864.6 829.75,864.6 830.44,864.6 831.14,864.6 831.83,864.6 832.52,864.6 833.21,864.6 833.9,864.6 834.59,864.6 835.29,864.6 835.98,864.6 836.67,864.6 837.36,864.6 838.05,864.6 838.75,864.6 839.44,864.6 840.13,864.6 840.82,864.6 841.51,864.6 842.21,864.6 842.9,864.6 843.59,864.6 844.28,864.6 844.97,864.6 845.66,864.6 846.36,864.6 847.05,864.6 847.74,864.6 848.43,864.6 849.12,864.6 849.82,864.6 850.51,864.6 851.2,864.6 851.89,864.6 852.58,864.6 853.28,864.6 853.97,864.6 854.66,864.6 855.35,864.6 856.04,864.6 856.73,864.6 857.43,864.6 858.12,864.6 858.81,864.6 859.5,864.6 860.19,864.6 860.89,864.6 861.58,864.6 862.27,864.6 862.96,864.6 863.65,864.6 864.35,864.6 865.04,864.6 865.73,864.6 866.42,864.6 867.11,864.6 867.8,864.6 868.5,864.6 869.19,864.6 869.88,864.6 870.57,864.6 871.26,864.6 871.96,864.6 872.65,864.6 873.34,864.6 874.03,864.6 874.72,864.6 875.42,864.6 876.11,864.6 876.8,864.6 877.49,864.6 878.18,864.6 878.87,864.6 879.57,864.6 880.26,864.6 880.95,864.6 881.64,864.6 882.33,864.6 883.03,864.6 883.72,864.6 884.41,864.6 885.1,864.6 885.79,864.6 886.49,864.6 887.18,864.6 887.87,864.6 888.56,864.6 889.25,864.59 889.94,864.59 890.64,864.59 891.33,864.59 892.02,864.59 892.71,864.59 893.4,864.59 894.1,864.59 894.79,864.59 895.48,864.59 896.17,864.59 896.86,864.59 897.56,864.59 898.25,864.59 898.94,864.58 899.63,864.58 900.32,864.58 901.01,864.58 901.71,864.58 902.4,864.58 903.09,864.58 903.78,864.57 904.47,864.57 905.17,864.57 905.86,864.57 906.55,864.56 907.24,864.56 907.93,864.56 908.63,864.55 909.32,864.55 910.01,864.55 910.7,864.54 911.39,864.54 912.08,864.53 912.78,864.53 913.47,864.52 914.16,864.52 914.85,864.51 915.54,864.51 916.24,864.5 916.93,864.49 917.62,864.48 918.31,864.48 919,864.47 919.7,864.46 920.39,864.45 921.08,864.44 921.77,864.42 922.46,864.41 923.15,864.4 923.85,864.38 924.54,864.37 925.23,864.35 925.92,864.34 926.61,864.32 927.31,864.3 928,864.28 928.69,864.26 929.38,864.23 930.07,864.21 930.77,864.18 931.46,864.16 932.15,864.13 932.84,864.09 933.53,864.06 934.22,864.03 934.92,863.99 935.61,863.95 936.3,863.91 936.99,863.86 937.68,863.82 938.38,863.77 939.07,863.72 939.76,863.66 940.45,863.6 941.14,863.54 941.84,863.48 942.53,863.41 943.22,863.34 943.91,863.26 944.6,863.18 945.29,863.1 945.99,863.01 946.68,862.91 947.37,862.81 948.06,862.71 948.75,862.6 949.45,862.49 950.14,862.36 950.83,862.24 951.52,862.1 952.21,861.96 952.91,861.81 953.6,861.66 954.29,861.5 954.98,861.33 955.67,861.15 956.36,860.96 957.06,860.76 957.75,860.56 958.44,860.34 959.13,860.12 959.82,859.88 960.52,859.63 961.21,859.37 961.9,859.1 962.59,858.82 963.28,858.53 963.98,858.22 964.67,857.9 965.36,857.56 966.05,857.21 966.74,856.84 967.43,856.46 968.13,856.07 968.82,855.65 969.51,855.22 970.2,854.78 970.89,854.31 971.59,853.82 972.28,853.32 972.97,852.8 973.66,852.25 974.35,851.69 975.05,851.1 975.74,850.49 976.43,849.86 977.12,849.2 977.81,848.52 978.5,847.81 979.2,847.08 979.89,846.33 980.58,845.54 981.27,844.73 981.96,843.89 982.66,843.03 983.35,842.13 984.04,841.2 984.73,840.24 985.42,839.26 986.12,838.23 986.81,837.18 987.5,836.09 988.19,834.97 988.88,833.82 989.57,832.63 990.27,831.41 990.96,830.14 991.65,828.85 992.34,827.51 993.03,826.14 993.73,824.73 994.42,823.28 995.11,821.79 995.8,820.26 996.49,818.69 997.19,817.08 997.88,815.42 998.57,813.73 999.26,812 999.95,810.22 1000.64,808.4 1001.34,806.54 1002.03,804.63 1002.72,802.68 1003.41,800.69 1004.1,798.65 1004.8,796.57 1005.49,794.45 1006.18,792.29 1006.87,790.08 1007.56,787.82 1008.26,785.53 1008.95,783.19 1009.64,780.8 1010.33,778.38 1011.02,775.91 1011.71,773.4 1012.41,770.84 1013.1,768.25 1013.79,765.62 1014.48,762.94 1015.17,760.23 1015.87,757.47 1016.56,754.68 1017.25,751.85 1017.94,748.99 1018.63,746.08 1019.33,743.15 1020.02,740.18 1020.71,737.17 1021.4,734.14 1022.09,731.07 1022.78,727.98 1023.48,724.86 1024.17,721.71 1024.86,718.53 1025.55,715.33 1026.24,712.11 1026.94,708.87 1027.63,705.61 1028.32,702.33 1029.01,699.03 1029.7,695.73 1030.4,692.41 1031.09,689.07 1031.78,685.73 1032.47,682.39 1033.16,679.04 1033.85,675.68 1034.55,672.33 1035.24,668.98 1035.93,665.63 1036.62,662.28 1037.31,658.95 1038.01,655.62 1038.7,652.31 1039.39,649.02 1040.08,645.74 1040.77,642.48 1041.47,639.24 1042.16,636.02 1042.85,632.84 1043.54,629.68 1044.23,626.55 1044.92,623.46 1045.62,620.4 1046.31,617.38 1047,614.41 1047.69,611.47 1048.38,608.58 1049.08,605.74 1049.77,602.95 1050.46,600.21 1051.15,597.53 1051.84,594.9 1052.54,592.34 1053.23,589.83 1053.92,587.39 1054.61,585.02 1055.3,582.71 1055.99,580.47 1056.69,578.3 1057.38,576.21 1058.07,574.19 1058.76,572.25 1059.45,570.39 1060.15,568.61 1060.84,566.91 1061.53,565.3 1062.22,563.77 1062.91,562.33 1063.61,560.97 1064.3,559.71 1064.99,558.53 1065.68,557.45 1066.37,556.46 1067.06,555.56 1067.76,554.76 1068.45,554.05 1069.14,553.44 1069.83,552.92 1070.52,552.51 1071.22,552.18 1071.91,551.96 1072.6,551.83 1073.29,551.8 1073.98,551.87 1074.68,552.04 1075.37,552.31 1076.06,552.67 1076.75,553.13 1077.44,553.7 1078.13,554.35 1078.83,555.11 1079.52,555.96 1080.21,556.9 1080.9,557.94 1081.59,559.07 1082.29,560.3 1082.98,561.61 1083.67,563.02 1084.36,564.51 1085.05,566.09 1085.75,567.76 1086.44,569.51 1087.13,571.34 1087.82,573.25 1088.51,575.24 1089.2,577.31 1089.9,579.46 1090.59,581.68 1091.28,583.97 1091.97,586.33 1092.66,588.75 1093.36,591.24 1094.05,593.8 1094.74,596.41 1095.43,599.09 1096.12,601.82 1096.82,604.6 1097.51,607.44 1098.2,610.33 1098.89,613.26 1099.58,616.24 1100.27,619.26 1100.97,622.32 1101.66,625.42 1102.35,628.55 1103.04,631.71 1103.73,634.91 1104.43,638.13 1105.12,641.38 1105.81,644.65 1106.5,647.95 1107.19,651.26 1107.89,654.58 1108.58,657.92 1109.27,661.27 1109.96,664.63 1110.65,668 1111.35,671.37 1112.04,674.74 1112.73,678.12 1113.42,681.49 1114.11,684.85 1114.8,688.21 1115.5,691.57 1116.19,694.91 1116.88,698.24 1117.57,701.56 1118.26,704.86 1118.96,708.14 1119.65,711.41 1120.34,714.65 1121.03,717.87 1121.72,721.07 1122.41,724.24 1123.11,727.39 1123.8,730.51 1124.49,733.6 1125.18,736.65 1125.87,739.68 1126.57,742.67 1127.26,745.63 1127.95,748.55 1128.64,751.44 1129.33,754.29 1130.03,757.11 1130.72,759.88 1131.41,762.61 1132.1,765.31 1132.79,767.96 1133.48,770.58 1134.18,773.15 1134.87,775.68 1135.56,778.16 1136.25,780.61 1136.94,783.01 1137.64,785.36 1138.33,787.68 1139.02,789.95 1139.71,792.17 1140.4,794.35 1141.1,796.49 1141.79,798.58 1142.48,800.63 1143.17,802.63 1143.86,804.59 1144.55,806.51 1145.25,808.39 1145.94,810.22 1146.63,812 1147.32,813.75 1148.01,815.45 1148.71,817.11 1149.4,818.73 1150.09,820.31 1150.78,821.84 1151.47,823.34 1152.17,824.8 1152.86,826.22 1153.55,827.59 1154.24,828.93 1154.93,830.24 1155.62,831.5 1156.32,832.73 1157.01,833.93 1157.7,835.08 1158.39,836.21 1159.08,837.3 1159.78,838.35 1160.47,839.37 1161.16,840.36 1161.85,841.32 1162.54,842.25 1163.24,843.15 1163.93,844.02 1164.62,844.86 1165.31,845.67 1166,846.45 1166.69,847.21 1167.39,847.94 1168.08,848.64 1168.77,849.32 1169.46,849.98 1170.15,850.61 1170.85,851.22 1171.54,851.81 1172.23,852.37 1172.92,852.91 1173.61,853.44 1174.31,853.94 1175,854.42 1175.69,854.89 1176.38,855.33 1177.07,855.76 1177.76,856.17 1178.46,856.57 1179.15,856.94 1179.84,857.31 1180.53,857.66 1181.22,857.99 1181.92,858.31 1182.61,858.62 1183.3,858.91 1183.99,859.19 1184.68,859.46 1185.38,859.71 1186.07,859.96 1186.76,860.19 1187.45,860.42 1188.14,860.63 1188.83,860.83 1189.53,861.03 1190.22,861.21 1190.91,861.39 1191.6,861.56 1192.29,861.72 1192.99,861.87 1193.68,862.02 1194.37,862.16 1195.06,862.29 1195.75,862.41 1196.45,862.53 1197.14,862.65 1197.83,862.76 1198.52,862.86 1199.21,862.95 1199.9,863.05 1200.6,863.13 1201.29,863.22 1201.98,863.3 1202.67,863.37 1203.36,863.44 1204.06,863.51 1204.75,863.57 1205.44,863.63 1206.13,863.69 1206.82,863.74 1207.52,863.79 1208.21,863.84 1208.9,863.89 1209.59,863.93 1210.28,863.97 1210.97,864.01 1211.67,864.05 1212.36,864.08 1213.05,864.11 1213.74,864.14 1214.43,864.17 1215.13,864.2 1215.82,864.22 1216.51,864.25 1217.2,864.27 1217.89,864.29 1218.59,864.31 1219.28,864.33 1219.97,864.35 1220.66,864.36 1221.35,864.38 1222.04,864.39 1222.74,864.41 1223.43,864.42 1224.12,864.43 1224.81,864.44 1225.5,864.45 1226.2,864.46 1226.89,864.47 1227.58,864.48 1228.27,864.49 1228.96,864.5 1229.66,864.5 1230.35,864.51 1231.04,864.52 1231.73,864.52 1232.42,864.53 1233.12,864.53 1233.81,864.54 1234.5,864.54 1235.19,864.55 1235.88,864.55 1236.57,864.55 1237.27,864.56 1237.96,864.56 1238.65,864.56 1239.34,864.57 1240.03,864.57 1240.73,864.57 1241.42,864.57 1242.11,864.57 1242.8,864.58 1243.49,864.58 1244.18,864.58 1244.88,864.58 1245.57,864.58 1246.26,864.58 1246.95,864.59 1247.64,864.59 1248.34,864.59 1249.03,864.59 1249.72,864.59 1250.41,864.59 1251.1,864.59 1251.8,864.59 1252.49,864.59 1253.18,864.59 1253.87,864.59 1254.56,864.59 1255.25,864.59 1255.95,864.59 1256.64,864.6 1257.33,864.6 1258.02,864.6 1258.71,864.6 1259.41,864.6 1260.1,864.6 1260.79,864.6 1261.48,864.6 1262.17,864.6 1262.87,864.6 1263.56,864.6 1264.25,864.6 1264.94,864.6 1265.63,864.6 1266.32,864.6 1267.02,864.6 1267.71,864.6 1268.4,864.6 1269.09,864.6 1269.78,864.6 1270.48,864.6 1271.17,864.6 1271.86,864.6 1272.55,864.6 1273.24,864.6 1273.94,864.6 1274.63,864.6 1275.32,864.6 1276.01,864.6 1276.7,864.6 1277.39,864.6 1278.09,864.6 1278.78,864.6 1279.47,864.6 1280.16,864.6 1280.85,864.6 1281.55,864.6 1282.24,864.6 1282.93,864.6 1283.62,864.6 1284.31,864.6 1285.01,864.6 1285.7,864.6 1286.39,864.6 1287.08,864.6 1287.77,864.6 1288.46,864.6 1289.16,864.6 1289.85,864.6 1290.54,864.6 1291.23,864.6 1291.92,864.6 1292.62,864.6 1293.31,864.6 1294,864.6 1294.69,864.6 1295.38,864.6 1296.08,864.6 1296.77,864.6 1297.46,864.6 1298.15,864.6 1298.84,864.6 1299.53,864.6 1300.23,864.6 1300.92,864.6 1301.61,864.6 1302.3,864.6 1302.99,864.6 1303.69,864.6 1304.38,864.6 1305.07,864.6 1305.76,864.6 1306.45,864.6 1307.15,864.6 1307.84,864.6 1308.53,864.6 1309.22,864.6 1309.91,864.6 1310.61,864.6 1311.3,864.6 1311.99,864.6 1312.68,864.6 1313.37,864.6 1314.06,864.6 1314.76,864.6 1315.45,864.6 1316.14,864.6 1316.83,864.6 1317.52,864.6 1318.22,864.6 1318.91,864.6 1319.6,864.6 1320.29,864.6 1320.98,864.6 1321.67,864.6 1322.37,864.6 1323.06,864.6 1323.75,864.6 1324.44,864.6 1325.13,864.6 1325.83,864.6 1326.52,864.6 1327.21,864.6 1327.9,864.6 1328.59,864.6 1329.29,864.6 1329.98,864.6 1330.67,864.6 1331.36,864.6 1332.05,864.6 1332.74,864.6 1333.44,864.6 1334.13,864.6 1334.82,864.6 1335.51,864.6 1336.2,864.6 1336.9,864.6 1337.59,864.6 1338.28,864.6 1338.97,864.6 1339.66,864.6 1340.36,864.6 1341.05,864.6 1341.74,864.6 1342.43,864.6 1343.12,864.6 1343.82,864.6 1344.51,864.6 1345.2,864.6 1345.89,864.6 1346.58,864.6 1347.27,864.6 1347.97,864.6 1348.66,864.6 1349.35,864.6 1349.35,864.6" fill="#bdd4f4" stroke="none"/>
<polyline points="795.85,864.6 796.54,864.6 797.23,864.6 797.93,864.6 798.62,864.6 799.31,864.6 800,864.6 800.69,864.6 801.38,864.6 802.08,864.6 802.77,864.6 803.46,864.6 804.15,864.6 804.84,864.6 805.54,864.6 806.23,864.6 806.92,864.6 807.61,864.6 808.3,864.6 809,864.6 809.69,864.6 810.38,864.6 811.07,864.6 811.76,864.6 812.45,864.6 813.15,864.6 813.84,864.6 814.53,864.6 815.22,864.6 815.91,864.6 816.61,864.6 817.3,864.6 817.99,864.6 818.68,864.6 819.37,864.6 820.07,864.6 820.76,864.6 821.45,864.6 822.14,864.6 822.83,864.6 823.52,864.6 824.22,864.6 824.91,864.6 825.6,864.6 826.29,864.6 826.98,864.6 827.68,864.6 828.37,864.6 829.06,864.6 829.75,864.6 830.44,864.6 831.14,864.6 831.83,864.6 832.52,864.6 833.21,864.6 833.9,864.6 834.59,864.6 835.29,864.6 835.98,864.6 836.67,864.6 837.36,864.6 838.05,864.6 838.75,864.6 839.44,864.6 840.13,864.6 840.82,864.6 841.51,864.6 842.21,864.6 842.9,864.6 843.59,864.6 844.28,864.6 844.97,864.6 845.66,864.6 846.36,864.6 847.05,864.6 847.74,864.6 848.43,864.6 849.12,864.6 849.82,864.6 850.51,864.6 851.2,864.6 851.89,864.6 852.58,864.6 853.28,864.6 853.97,864.6 854.66,864.6 855.35,864.6 856.04,864.6 856.73,864.6 857.43,864.6 858.12,864.6 858.81,864.6 859.5,864.6 860.19,864.6 860.89,864.6 861.58,864.6 862.27,864.6 862.96,864.6 863.65,864.6 864.35,864.6 865.04,864.6 865.73,864.6 866.42,864.6 867.11,864.6 867.8,864.6 868.5,864.6 869.19,864.6 869.88,864.6 870.57,864.6 871.26,864.6 871.96,864.6 872.65,864.6 873.34,864.6 874.03,864.6 874.72,864.6 875.42,864.6 876.11,864.6 876.8,864.6 877.49,864.6 878.18,864.6 878.87,864.6 879.57,864.6 880.26,864.6 880.95,864.6 881.64,864.6 882.33,864.6 883.03,864.6 883.72,864.6 884.41,864.6 885.1,864.6 885.79,864.6 886.49,864.6 887.18,864.6 887.87,864.6 888.56,864.6 889.25,864.59 889.94,864.59 890.64,864.59 891.33,864.59 892.02,864.59 892.71,864.59 893.4,864.59 894.1,864.59 894.79,864.59 895.48,864.59 896.17,864.59 896.86,864.59 897.56,864.59 898.25,864.59 898.94,864.58 899.63,864.58 900.32,864.58 901.01,864.58 901.71,864.58 902.4,864.58 903.09,864.58 903.78,864.57 904.47,864.57 905.17,864.57 905.86,864.57 906.55,864.56 907.24,864.56 907.93,864.56 908.63,864.55 909.32,864.55 910.01,864.55 910.7,864.54 911.39,864.54 912.08,864.53 912.78,864.53 913.47,864.52 914.16,864.52 914.85,864.51 915.54,864.51 916.24,864.5 916.93,864.49 917.62,864.48 918.31,864.48 919,864.47 919.7,864.46 920.39,864.45 921.08,864.44 921.77,864.42 922.46,864.41 923.15,864.4 923.85,864.38 924.54,864.37 925.23,864.35 925.92,864.34 926.61,864.32 927.31,864.3 928,864.28 928.69,864.26 929.38,864.23 930.07,864.21 930.77,864.18 931.46,864.16 932.15,864.13 932.84,864.09 933.53,864.06 934.22,864.03 934.92,863.99 935.61,863.95 936.3,863.91 936.99,863.86 937.68,863.82 938.38,863.77 939.07,863.72 939.76,863.66 940.45,863.6 941.14,863.54 941.84,863.48 942.53,863.41 943.22,863.34 943.91,863.26 944.6,863.18 945.29,863.1 945.99,863.01 946.68,862.91 947.37,862.81 948.06,862.71 948.75,862.6 949.45,862.49 950.14,862.36 950.83,862.24 951.52,862.1 952.21,861.96 952.91,861.81 953.6,861.66 954.29,861.5 954.98,861.33 955.67,861.15 956.36,860.96 957.06,860.76 957.75,860.56 958.44,860.34 959.13,860.12 959.82,859.88 960.52,859.63 961.21,859.37 961.9,859.1 962.59,858.82 963.28,858.53 963.98,858.22 964.67,857.9 965.36,857.56 966.05,857.21 966.74,856.84 967.43,856.46 968.13,856.07 968.82,855.65 969.51,855.22 970.2,854.78 970.89,854.31 971.59,853.82 972.28,853.32 972.97,852.8 973.66,852.25 974.35,851.69 975.05,851.1 975.74,850.49 976.43,849.86 977.12,849.2 977.81,848.52 978.5,847.81 979.2,847.08 979.89,846.33 980.58,845.54 981.27,844.73 981.96,843.89 982.66,843.03 983.35,842.13 984.04,841.2 984.73,840.24 985.42,839.26 986.12,838.23 986.81,837.18 987.5,836.09 988.19,834.97 988.88,833.82 989.57,832.63 990.27,831.41 990.96,830.14 991.65,828.85 992.34,827.51 993.03,826.14 993.73,824.73 994.42,823.28 995.11,821.79 995.8,820.26 996.49,818.69 997.19,817.08 997.88,815.42 998.57,813.73 999.26,812 999.95,810.22 1000.64,808.4 1001.34,806.54 1002.03,804.63 1002.72,802.68 1003.41,800.69 1004.1,798.65 1004.8,796.57 1005.49,794.45 1006.18,792.29 1006.87,790.08 1007.56,787.82 1008.26,785.53 1008.95,783.19 1009.64,780.8 1010.33,778.38 1011.02,775.91 1011.71,773.4 1012.41,770.84 1013.1,768.25 1013.79,765.62 1014.48,762.94 1015.17,760.23 1015.87,757.47 1016.56,754.68 1017.25,751.85 1017.94,748.99 1018.63,746.08 1019.33,743.15 1020.02,740.18 1020.71,737.17 1021.4,734.14 1022.09,731.07 1022.78,727.98 1023.48,724.86 1024.17,721.71 1024.86,718.53 1025.55,715.33 1026.24,712.11 1026.94,708.87 1027.63,705.61 1028.32,702.33 1029.01,699.03 1029.7,695.73 1030.4,692.41 1031.09,689.07 1031.78,685.73 1032.47,682.39 1033.16,679.04 1033.85,675.68 1034.55,672.33 1035.24,668.98 1035.93,665.63 1036.62,662.28 1037.31,658.95 1038.01,655.62 1038.7,652.31 1039.39,649.02 1040.08,645.74 1040.77,642.48 1041.47,639.24 1042.16,636.02 1042.85,632.84 1043.54,629.68 1044.23,626.55 1044.92,623.46 1045.62,620.4 1046.31,617.38 1047,614.41 1047.69,611.47 1048.38,608.58 1049.08,605.74 1049.77,602.95 1050.46,600.21 1051.15,597.53 1051.84,594.9 1052.54,592.34 1053.23,589.83 1053.92,587.39 1054.61,585.02 1055.3,582.71 1055.99,580.47 1056.69,578.3 1057.38,576.21 1058.07,574.19 1058.76,572.25 1059.45,570.39 1060.15,568.61 1060.84,566.91 1061.53,565.3 1062.22,563.77 1062.91,562.33 1063.61,560.97 1064.3,559.71 1064.99,558.53 1065.68,557.45 1066.37,556.46 1067.06,555.56 1067.76,554.76 1068.45,554.05 1069.14,553.44 1069.83,552.92 1070.52,552.51 1071.22,552.18 1071.91,551.96 1072.6,551.83 1073.29,551.8 1073.98,551.87 1074.68,552.04 1075.37,552.31 1076.06,552.67 1076.75,553.13 1077.44,553.7 1078.13,554.35 1078.83,555.11 1079.52,555.96 1080.21,556.9 1080.9,557.94 1081.59,559.07 1082.29,560.3 1082.98,561.61 1083.67,563.02 1084.36,564.51 1085.05,566.09 1085.75,567.76 1086.44,569.51 1087.13,571.34 1087.82,573.25 1088.51,575.24 1089.2,577.31 1089.9,579.46 1090.59,581.68 1091.28,583.97 1091.97,586.33 1092.66,588.75 1093.36,591.24 1094.05,593.8 1094.74,596.41 1095.43,599.09 1096.12,601.82 1096.82,604.6 1097.51,607.44 1098.2,610.33 1098.89,613.26 1099.58,616.24 1100.27,619.26 1100.97,622.32 1101.66,625.42 1102.35,628.55 1103.04,631.71 1103.73,634.91 1104.43,638.13 1105.12,641.38 1105.81,644.65 1106.5,647.95 1107.19,651.26 1107.89,654.58 1108.58,657.92 1109.27,661.27 1109.96,664.63 1110.65,668 1111.35,671.37 1112.04,674.74 1112.73,678.12 1113.42,681.49 1114.11,684.85 1114.8,688.21 1115.5,691.57 1116.19,694.91 1116.88,698.24 1117.57,701.56 1118.26,704.86 1118.96,708.14 1119.65,711.41 1120.34,714.65 1121.03,717.87 1121.72,721.07 1122.41,724.24 1123.11,727.39 1123.8,730.51 1124.49,733.6 1125.18,736.65 1125.87,739.68 1126.57,742.67 1127.26,745.63 1127.95,748.55 1128.64,751.44 1129.33,754.29 1130.03,757.11 1130.72,759.88 1131.41,762.61 1132.1,765.31 1132.79,767.96 1133.48,770.58 1134.18,773.15 1134.87,775.68 1135.56,778.16 1136.25,780.61 1136.94,783.01 1137.64,785.36 1138.33,787.68 1139.02,789.95 1139.71,792.17 1140.4,794.35 1141.1,796.49 1141.79,798.58 1142.48,800.63 1143.17,802.63 1143.86,804.59 1144.55,806.51 1145.25,808.39 1145.94,810.22 1146.63,812 1147.32,813.75 1148.01,815.45 1148.71,817.11 1149.4,818.73 1150.09,820.31 1150.78,821.84 1151.47,823.34 1152.17,824.8 1152.86,826.22 1153.55,827.59 1154.24,828.93 1154.93,830.24 1155.62,831.5 1156.32,832.73 1157.01,833.93 1157.7,835.08 1158.39,836.21 1159.08,837.3 1159.78,838.35 1160.47,839.37 1161.16,840.36 1161.85,841.32 1162.54,842.25 1163.24,843.15 1163.93,844.02 1164.62,844.86 1165.31,845.67 1166,846.45 1166.69,847.21 1167.39,847.94 1168.08,848.64 1168.77,849.32 1169.46,849.98 1170.15,850.61 1170.85,851.22 1171.54,851.81 1172.23,852.37 1172.92,852.91 1173.61,853.44 1174.31,853.94 1175,854.42 1175.69,854.89 1176.38,855.33 1177.07,855.76 1177.76,856.17 1178.46,856.57 1179.15,856.94 1179.84,857.31 1180.53,857.66 1181.22,857.99 1181.92,858.31 1182.61,858.62 1183.3,858.91 1183.99,859.19 1184.68,859.46 1185.38,859.71 1186.07,859.96 1186.76,860.19 1187.45,860.42 1188.14,860.63 1188.83,860.83 1189.53,861.03 1190.22,861.21 1190.91,861.39 1191.6,861.56 1192.29,861.72 1192.99,861.87 1193.68,862.02 1194.37,862.16 1195.06,862.29 1195.75,862.41 1196.45,862.53 1197.14,862.65 1197.83,862.76 1198.52,862.86 1199.21,862.95 1199.9,863.05 1200.6,863.13 1201.29,863.22 1201.98,863.3 1202.67,863.37 1203.36,863.44 1204.06,863.51 1204.75,863.57 1205.44,863.63 1206.13,863.69 1206.82,863.74 1207.52,863.79 1208.21,863.84 1208.9,863.89 1209.59,863.93 1210.28,863.97 1210.97,864.01 1211.67,864.05 1212.36,864.08 1213.05,864.11 1213.74,864.14 1214.43,864.17 1215.13,864.2 1215.82,864.22 1216.51,864.25 1217.2,864.27 1217.89,864.29 1218.59,864.31 1219.28,864.33 1219.97,864.35 1220.66,864.36 1221.35,864.38 1222.04,864.39 1222.74,864.41 1223.43,864.42 1224.12,864.43 1224.81,864.44 1225.5,864.45 1226.2,864.46 1226.89,864.47 1227.58,864.48 1228.27,864.49 1228.96,864.5 1229.66,864.5 1230.35,864.51 1231.04,864.52 1231.73,864.52 1232.42,864.53 1233.12,864.53 1233.81,864.54 1234.5,864.54 1235.19,864.55 1235.88,864.55 1236.57,864.55 1237.27,864.56 1237.96,864.56 1238.65,864.56 1239.34,864.57 1240.03,864.57 1240.73,864.57 1241.42,864.57 1242.11,864.57 1242.8,864.58 1243.49,864.58 1244.18,864.58 1244.88,864.58 1245.57,864.58 1246.26,864.58 1246.95,864.59 1247.64,864.59 1248.34,864.59 1249.03,864.59 1249.72,864.59 1250.41,864.59 1251.1,864.59 1251.8,864.59 1252.49,864.59 1253.18,864.59 1253.87,864.59 1254.56,864.59 1255.25,864.59 1255.95,864.59 1256.64,864.6 1257.33,864.6 1258.02,864.6 1258.71,864.6 1259.41,864.6 1260.1,864.6 1260.79,864.6 1261.48,864.6 1262.17,864.6 1262.87,864.6 1263.56,864.6 1264.25,864.6 1264.94,864.6 1265.63,864.6 1266.32,864.6 1267.02,864.6 1267.71,864.6 1268.4,864.6 1269.09,864.6 1269.78,864.6 1270.48,864.6 1271.17,864.6 1271.86,864.6 1272.55,864.6 1273.24,864.6 1273.94,864.6 1274.63,864.6 1275.32,864.6 1276.01,864.6 1276.7,864.6 1277.39,864.6 1278.09,864.6 1278.78,864.6 1279.47,864.6 1280.16,864.6 1280.85,864.6 1281.55,864.6 1282.24,864.6 1282.93,864.6 1283.62,864.6 1284.31,864.6 1285.01,864.6 1285.7,864.6 1286.39,864.6 1287.08,864.6 1287.77,864.6 1288.46,864.6 1289.16,864.6 1289.85,864.6 1290.54,864.6 1291.23,864.6 1291.92,864.6 1292.62,864.6 1293.31,864.6 1294,864.6 1294.69,864.6 1295.38,864.6 1296.08,864.6 1296.77,864.6 1297.46,864.6 1298.15,864.6 1298.84,864.6 1299.53,864.6 1300.23,864.6 1300.92,864.6 1301.61,864.6 1302.3,864.6 1302.99,864.6 1303.69,864.6 1304.38,864.6 1305.07,864.6 1305.76,864.6 1306.45,864.6 1307.15,864.6 1307.84,864.6 1308.53,864.6 1309.22,864.6 1309.91,864.6 1310.61,864.6 1311.3,864.6 1311.99,864.6 1312.68,864.6 1313.37,864.6 1314.06,864.6 1314.76,864.6 1315.45,864.6 1316.14,864.6 1316.83,864.6 1317.52,864.6 1318.22,864.6 1318.91,864.6 1319.6,864.6 1320.29,864.6 1320.98,864.6 1321.67,864.6 1322.37,864.6 1323.06,864.6 1323.75,864.6 1324.44,864.6 1325.13,864.6 1325.83,864.6 1326.52,864.6 1327.21,864.6 1327.9,864.6 1328.59,864.6 1329.29,864.6 1329.98,864.6 1330.67,864.6 1331.36,864.6 1332.05,864.6 1332.74,864.6 1333.44,864.6 1334.13,864.6 1334.82,864.6 1335.51,864.6 1336.2,864.6 1336.9,864.6 1337.59,864.6 1338.28,864.6 1338.97,864.6 1339.66,864.6 1340.36,864.6 1341.05,864.6 1341.74,864.6 1342.43,864.6 1343.12,864.6 1343.82,864.6 1344.51,864.6 1345.2,864.6 1345.89,864.6 1346.58,864.6 1347.27,864.6 1347.97,864.6 1348.66,864.6 1349.35,864.6" fill="none" stroke="#1b6bdb" stroke-width="2.6"/>
<polygon points="1050.46,864.6 1050.57,864.6 1050.68,864.6 1050.79,864.6 1050.9,864.6 1051.01,864.6 1051.12,864.6 1051.23,864.6 1051.35,864.6 1051.46,864.6 1051.57,864.6 1051.68,864.6 1051.79,864.6 1051.9,864.6 1052.01,864.6 1052.12,864.6 1052.23,864.6 1052.34,864.6 1052.45,864.6 1052.56,864.6 1052.67,864.6 1052.78,864.6 1052.9,864.6 1053.01,864.6 1053.12,864.6 1053.23,864.6 1053.34,864.6 1053.45,864.6 1053.56,864.6 1053.67,864.6 1053.78,864.6 1053.89,864.6 1054,864.6 1054.11,864.6 1054.22,864.6 1054.33,864.6 1054.45,864.6 1054.56,864.6 1054.67,864.6 1054.78,864.6 1054.89,864.6 1055,864.6 1055.11,864.6 1055.22,864.6 1055.33,864.6 1055.44,864.6 1055.55,864.6 1055.66,864.6 1055.77,864.6 1055.88,864.6 1055.99,864.6 1056.11,864.6 1056.22,864.6 1056.33,864.6 1056.44,864.6 1056.55,864.6 1056.66,864.6 1056.77,864.6 1056.88,864.6 1056.99,864.6 1057.1,864.6 1057.21,864.6 1057.32,864.6 1057.43,864.6 1057.54,864.6 1057.66,864.6 1057.77,864.6 1057.88,864.6 1057.99,864.6 1058.1,864.6 1058.21,864.6 1058.32,864.6 1058.43,864.6 1058.54,864.6 1058.65,864.6 1058.76,864.6 1058.87,864.59 1058.98,864.59 1059.09,864.59 1059.21,864.59 1059.32,864.59 1059.43,864.59 1059.54,864.58 1059.65,864.58 1059.76,864.58 1059.87,864.57 1059.98,864.57 1060.09,864.56 1060.2,864.56 1060.31,864.55 1060.42,864.54 1060.53,864.53 1060.64,864.52 1060.76,864.51 1060.87,864.5 1060.98,864.48 1061.09,864.46 1061.2,864.44 1061.31,864.41 1061.42,864.38 1061.53,864.35 1061.64,864.31 1061.75,864.26 1061.86,864.21 1061.97,864.16 1062.08,864.09 1062.19,864.02 1062.3,863.94 1062.42,863.84 1062.53,863.74 1062.64,863.62 1062.75,863.49 1062.86,863.34 1062.97,863.17 1063.08,862.98 1063.19,862.78 1063.3,862.54 1063.41,862.28 1063.52,861.99 1063.63,861.67 1063.74,861.32 1063.85,860.92 1063.97,860.49 1064.08,860.01 1064.19,859.48 1064.3,858.9 1064.41,858.26 1064.52,857.56 1064.63,856.8 1064.74,855.96 1064.85,855.05 1064.96,854.05 1065.07,852.97 1065.18,851.8 1065.29,850.53 1065.4,849.15 1065.52,847.67 1065.63,846.07 1065.74,844.34 1065.85,842.49 1065.96,840.5 1066.07,838.36 1066.18,836.09 1066.29,833.65 1066.4,831.06 1066.51,828.3 1066.62,825.37 1066.73,822.27 1066.84,818.98 1066.95,815.51 1067.06,811.85 1067.18,808 1067.29,803.95 1067.4,799.71 1067.51,795.26 1067.62,790.62 1067.73,785.78 1067.84,780.75 1067.95,775.51 1068.06,770.09 1068.17,764.48 1068.28,758.69 1068.39,752.72 1068.5,746.58 1068.61,740.29 1068.73,733.84 1068.84,727.26 1068.95,720.54 1069.06,713.72 1069.17,706.8 1069.28,699.79 1069.39,692.72 1069.5,685.6 1069.61,678.46 1069.72,671.3 1069.83,664.15 1069.94,657.03 1070.05,649.97 1070.16,642.98 1070.28,636.09 1070.39,629.32 1070.5,622.7 1070.61,616.24 1070.72,609.97 1070.83,603.92 1070.94,598.1 1071.05,592.54 1071.16,587.26 1071.27,582.28 1071.38,577.62 1071.49,573.3 1071.6,569.33 1071.71,565.73 1071.83,562.52 1071.94,559.72 1072.05,557.32 1072.16,555.34 1072.27,553.8 1072.38,552.69 1072.49,552.02 1072.6,551.8 1072.71,552.02 1072.82,552.69 1072.93,553.8 1073.04,555.34 1073.15,557.32 1073.26,559.72 1073.37,562.52 1073.49,565.73 1073.6,569.33 1073.71,573.3 1073.82,577.62 1073.93,582.28 1074.04,587.26 1074.15,592.54 1074.26,598.1 1074.37,603.92 1074.48,609.97 1074.59,616.24 1074.7,622.7 1074.81,629.32 1074.92,636.09 1075.04,642.98 1075.15,649.97 1075.26,657.03 1075.37,664.15 1075.48,671.3 1075.59,678.46 1075.7,685.6 1075.81,692.72 1075.92,699.79 1076.03,706.8 1076.14,713.72 1076.25,720.54 1076.36,727.26 1076.47,733.84 1076.59,740.29 1076.7,746.58 1076.81,752.72 1076.92,758.69 1077.03,764.48 1077.14,770.09 1077.25,775.51 1077.36,780.75 1077.47,785.78 1077.58,790.62 1077.69,795.26 1077.8,799.71 1077.91,803.95 1078.02,808 1078.13,811.85 1078.25,815.51 1078.36,818.98 1078.47,822.27 1078.58,825.37 1078.69,828.3 1078.8,831.06 1078.91,833.65 1079.02,836.09 1079.13,838.36 1079.24,840.5 1079.35,842.49 1079.46,844.34 1079.57,846.07 1079.68,847.67 1079.8,849.15 1079.91,850.53 1080.02,851.8 1080.13,852.97 1080.24,854.05 1080.35,855.05 1080.46,855.96 1080.57,856.8 1080.68,857.56 1080.79,858.26 1080.9,858.9 1081.01,859.48 1081.12,860.01 1081.23,860.49 1081.35,860.92 1081.46,861.32 1081.57,861.67 1081.68,861.99 1081.79,862.28 1081.9,862.54 1082.01,862.78 1082.12,862.98 1082.23,863.17 1082.34,863.34 1082.45,863.49 1082.56,863.62 1082.67,863.74 1082.78,863.84 1082.9,863.94 1083.01,864.02 1083.12,864.09 1083.23,864.16 1083.34,864.21 1083.45,864.26 1083.56,864.31 1083.67,864.35 1083.78,864.38 1083.89,864.41 1084,864.44 1084.11,864.46 1084.22,864.48 1084.33,864.5 1084.44,864.51 1084.56,864.52 1084.67,864.53 1084.78,864.54 1084.89,864.55 1085,864.56 1085.11,864.56 1085.22,864.57 1085.33,864.57 1085.44,864.58 1085.55,864.58 1085.66,864.58 1085.77,864.59 1085.88,864.59 1085.99,864.59 1086.11,864.59 1086.22,864.59 1086.33,864.59 1086.44,864.6 1086.55,864.6 1086.66,864.6 1086.77,864.6 1086.88,864.6 1086.99,864.6 1087.1,864.6 1087.21,864.6 1087.32,864.6 1087.43,864.6 1087.54,864.6 1087.66,864.6 1087.77,864.6 1087.88,864.6 1087.99,864.6 1088.1,864.6 1088.21,864.6 1088.32,864.6 1088.43,864.6 1088.54,864.6 1088.65,864.6 1088.76,864.6 1088.87,864.6 1088.98,864.6 1089.09,864.6 1089.2,864.6 1089.32,864.6 1089.43,864.6 1089.54,864.6 1089.65,864.6 1089.76,864.6 1089.87,864.6 1089.98,864.6 1090.09,864.6 1090.2,864.6 1090.31,864.6 1090.42,864.6 1090.53,864.6 1090.64,864.6 1090.75,864.6 1090.87,864.6 1090.98,864.6 1091.09,864.6 1091.2,864.6 1091.31,864.6 1091.42,864.6 1091.53,864.6 1091.64,864.6 1091.75,864.6 1091.86,864.6 1091.97,864.6 1092.08,864.6 1092.19,864.6 1092.3,864.6 1092.42,864.6 1092.53,864.6 1092.64,864.6 1092.75,864.6 1092.86,864.6 1092.97,864.6 1093.08,864.6 1093.19,864.6 1093.3,864.6 1093.41,864.6 1093.52,864.6 1093.63,864.6 1093.74,864.6 1093.85,864.6 1093.97,864.6 1094.08,864.6 1094.19,864.6 1094.3,864.6 1094.41,864.6 1094.52,864.6 1094.63,864.6 1094.74,864.6" fill="#c2ebd3" stroke="none"/>
<polyline points="1050.46,864.6 1050.57,864.6 1050.68,864.6 1050.79,864.6 1050.9,864.6 1051.01,864.6 1051.12,864.6 1051.23,864.6 1051.35,864.6 1051.46,864.6 1051.57,864.6 1051.68,864.6 1051.79,864.6 1051.9,864.6 1052.01,864.6 1052.12,864.6 1052.23,864.6 1052.34,864.6 1052.45,864.6 1052.56,864.6 1052.67,864.6 1052.78,864.6 1052.9,864.6 1053.01,864.6 1053.12,864.6 1053.23,864.6 1053.34,864.6 1053.45,864.6 1053.56,864.6 1053.67,864.6 1053.78,864.6 1053.89,864.6 1054,864.6 1054.11,864.6 1054.22,864.6 1054.33,864.6 1054.45,864.6 1054.56,864.6 1054.67,864.6 1054.78,864.6 1054.89,864.6 1055,864.6 1055.11,864.6 1055.22,864.6 1055.33,864.6 1055.44,864.6 1055.55,864.6 1055.66,864.6 1055.77,864.6 1055.88,864.6 1055.99,864.6 1056.11,864.6 1056.22,864.6 1056.33,864.6 1056.44,864.6 1056.55,864.6 1056.66,864.6 1056.77,864.6 1056.88,864.6 1056.99,864.6 1057.1,864.6 1057.21,864.6 1057.32,864.6 1057.43,864.6 1057.54,864.6 1057.66,864.6 1057.77,864.6 1057.88,864.6 1057.99,864.6 1058.1,864.6 1058.21,864.6 1058.32,864.6 1058.43,864.6 1058.54,864.6 1058.65,864.6 1058.76,864.6 1058.87,864.59 1058.98,864.59 1059.09,864.59 1059.21,864.59 1059.32,864.59 1059.43,864.59 1059.54,864.58 1059.65,864.58 1059.76,864.58 1059.87,864.57 1059.98,864.57 1060.09,864.56 1060.2,864.56 1060.31,864.55 1060.42,864.54 1060.53,864.53 1060.64,864.52 1060.76,864.51 1060.87,864.5 1060.98,864.48 1061.09,864.46 1061.2,864.44 1061.31,864.41 1061.42,864.38 1061.53,864.35 1061.64,864.31 1061.75,864.26 1061.86,864.21 1061.97,864.16 1062.08,864.09 1062.19,864.02 1062.3,863.94 1062.42,863.84 1062.53,863.74 1062.64,863.62 1062.75,863.49 1062.86,863.34 1062.97,863.17 1063.08,862.98 1063.19,862.78 1063.3,862.54 1063.41,862.28 1063.52,861.99 1063.63,861.67 1063.74,861.32 1063.85,860.92 1063.97,860.49 1064.08,860.01 1064.19,859.48 1064.3,858.9 1064.41,858.26 1064.52,857.56 1064.63,856.8 1064.74,855.96 1064.85,855.05 1064.96,854.05 1065.07,852.97 1065.18,851.8 1065.29,850.53 1065.4,849.15 1065.52,847.67 1065.63,846.07 1065.74,844.34 1065.85,842.49 1065.96,840.5 1066.07,838.36 1066.18,836.09 1066.29,833.65 1066.4,831.06 1066.51,828.3 1066.62,825.37 1066.73,822.27 1066.84,818.98 1066.95,815.51 1067.06,811.85 1067.18,808 1067.29,803.95 1067.4,799.71 1067.51,795.26 1067.62,790.62 1067.73,785.78 1067.84,780.75 1067.95,775.51 1068.06,770.09 1068.17,764.48 1068.28,758.69 1068.39,752.72 1068.5,746.58 1068.61,740.29 1068.73,733.84 1068.84,727.26 1068.95,720.54 1069.06,713.72 1069.17,706.8 1069.28,699.79 1069.39,692.72 1069.5,685.6 1069.61,678.46 1069.72,671.3 1069.83,664.15 1069.94,657.03 1070.05,649.97 1070.16,642.98 1070.28,636.09 1070.39,629.32 1070.5,622.7 1070.61,616.24 1070.72,609.97 1070.83,603.92 1070.94,598.1 1071.05,592.54 1071.16,587.26 1071.27,582.28 1071.38,577.62 1071.49,573.3 1071.6,569.33 1071.71,565.73 1071.83,562.52 1071.94,559.72 1072.05,557.32 1072.16,555.34 1072.27,553.8 1072.38,552.69 1072.49,552.02 1072.6,551.8 1072.71,552.02 1072.82,552.69 1072.93,553.8 1073.04,555.34 1073.15,557.32 1073.26,559.72 1073.37,562.52 1073.49,565.73 1073.6,569.33 1073.71,573.3 1073.82,577.62 1073.93,582.28 1074.04,587.26 1074.15,592.54 1074.26,598.1 1074.37,603.92 1074.48,609.97 1074.59,616.24 1074.7,622.7 1074.81,629.32 1074.92,636.09 1075.04,642.98 1075.15,649.97 1075.26,657.03 1075.37,664.15 1075.48,671.3 1075.59,678.46 1075.7,685.6 1075.81,692.72 1075.92,699.79 1076.03,706.8 1076.14,713.72 1076.25,720.54 1076.36,727.26 1076.47,733.84 1076.59,740.29 1076.7,746.58 1076.81,752.72 1076.92,758.69 1077.03,764.48 1077.14,770.09 1077.25,775.51 1077.36,780.75 1077.47,785.78 1077.58,790.62 1077.69,795.26 1077.8,799.71 1077.91,803.95 1078.02,808 1078.13,811.85 1078.25,815.51 1078.36,818.98 1078.47,822.27 1078.58,825.37 1078.69,828.3 1078.8,831.06 1078.91,833.65 1079.02,836.09 1079.13,838.36 1079.24,840.5 1079.35,842.49 1079.46,844.34 1079.57,846.07 1079.68,847.67 1079.8,849.15 1079.91,850.53 1080.02,851.8 1080.13,852.97 1080.24,854.05 1080.35,855.05 1080.46,855.96 1080.57,856.8 1080.68,857.56 1080.79,858.26 1080.9,858.9 1081.01,859.48 1081.12,860.01 1081.23,860.49 1081.35,860.92 1081.46,861.32 1081.57,861.67 1081.68,861.99 1081.79,862.28 1081.9,862.54 1082.01,862.78 1082.12,862.98 1082.23,863.17 1082.34,863.34 1082.45,863.49 1082.56,863.62 1082.67,863.74 1082.78,863.84 1082.9,863.94 1083.01,864.02 1083.12,864.09 1083.23,864.16 1083.34,864.21 1083.45,864.26 1083.56,864.31 1083.67,864.35 1083.78,864.38 1083.89,864.41 1084,864.44 1084.11,864.46 1084.22,864.48 1084.33,864.5 1084.44,864.51 1084.56,864.52 1084.67,864.53 1084.78,864.54 1084.89,864.55 1085,864.56 1085.11,864.56 1085.22,864.57 1085.33,864.57 1085.44,864.58 1085.55,864.58 1085.66,864.58 1085.77,864.59 1085.88,864.59 1085.99,864.59 1086.11,864.59 1086.22,864.59 1086.33,864.59 1086.44,864.6 1086.55,864.6 1086.66,864.6 1086.77,864.6 1086.88,864.6 1086.99,864.6 1087.1,864.6 1087.21,864.6 1087.32,864.6 1087.43,864.6 1087.54,864.6 1087.66,864.6 1087.77,864.6 1087.88,864.6 1087.99,864.6 1088.1,864.6 1088.21,864.6 1088.32,864.6 1088.43,864.6 1088.54,864.6 1088.65,864.6 1088.76,864.6 1088.87,864.6 1088.98,864.6 1089.09,864.6 1089.2,864.6 1089.32,864.6 1089.43,864.6 1089.54,864.6 1089.65,864.6 1089.76,864.6 1089.87,864.6 1089.98,864.6 1090.09,864.6 1090.2,864.6 1090.31,864.6 1090.42,864.6 1090.53,864.6 1090.64,864.6 1090.75,864.6 1090.87,864.6 1090.98,864.6 1091.09,864.6 1091.2,864.6 1091.31,864.6 1091.42,864.6 1091.53,864.6 1091.64,864.6 1091.75,864.6 1091.86,864.6 1091.97,864.6 1092.08,864.6 1092.19,864.6 1092.3,864.6 1092.42,864.6 1092.53,864.6 1092.64,864.6 1092.75,864.6 1092.86,864.6 1092.97,864.6 1093.08,864.6 1093.19,864.6 1093.3,864.6 1093.41,864.6 1093.52,864.6 1093.63,864.6 1093.74,864.6 1093.85,864.6 1093.97,864.6 1094.08,864.6 1094.19,864.6 1094.3,864.6 1094.41,864.6 1094.52,864.6 1094.63,864.6 1094.74,864.6" fill="none" stroke="#2ea664" stroke-width="2.1"/>
</g>
<line x1="851.2" y1="864.6" x2="851.2" y2="855.1" stroke="#000" stroke-width="2"/>
<line x1="851.2" y1="551.8" x2="851.2" y2="561.3" stroke="#000" stroke-width="2"/>
<line x1="961.9" y1="864.6" x2="961.9" y2="855.1" stroke="#000" stroke-width="2"/>
<line x1="961.9" y1="551.8" x2="961.9" y2="561.3" stroke="#000" stroke-width="2"/>
<line x1="1072.6" y1="864.6" x2="1072.6" y2="855.1" stroke="#000" stroke-width="2"/>
<line x1="1072.6" y1="551.8" x2="1072.6" y2="561.3" stroke="#000" stroke-width="2"/>
<line x1="1183.3" y1="864.6" x2="1183.3" y2="855.1" stroke="#000" stroke-width="2"/>
<line x1="1183.3" y1="551.8" x2="1183.3" y2="561.3" stroke="#000" stroke-width="2"/>
<line x1="1294" y1="864.6" x2="1294" y2="855.1" stroke="#000" stroke-width="2"/>
<line x1="1294" y1="551.8" x2="1294" y2="561.3" stroke="#000" stroke-width="2"/>
<line x1="823.52" y1="864.6" x2="823.52" y2="860.1" stroke="#000" stroke-width="2"/>
<line x1="823.52" y1="551.8" x2="823.52" y2="556.3" stroke="#000" stroke-width="2"/>
<line x1="878.87" y1="864.6" x2="878.87" y2="860.1" stroke="#000" stroke-width="2"/>
<line x1="878.87" y1="551.8" x2="878.87" y2="556.3" stroke="#000" stroke-width="2"/>
<line x1="906.55" y1="864.6" x2="906.55" y2="860.1" stroke="#000" stroke-width="2"/>
<line x1="906.55" y1="551.8" x2="906.55" y2="556.3" stroke="#000" stroke-width="2"/>
<line x1="934.22" y1="864.6" x2="934.22" y2="860.1" stroke="#000" stroke-width="2"/>
<line x1="934.22" y1="551.8" x2="934.22" y2="556.3" stroke="#000" stroke-width="2"/>
<line x1="989.57" y1="864.6" x2="989.57" y2="860.1" stroke="#000" stroke-width="2"/>
<line x1="989.57" y1="551.8" x2="989.57" y2="556.3" stroke="#000" stroke-width="2"/>
<line x1="1017.25" y1="864.6" x2="1017.25" y2="860.1" stroke="#000" stroke-width="2"/>
<line x1="1017.25" y1="551.8" x2="1017.25" y2="556.3" stroke="#000" stroke-width="2"/>
<line x1="1044.92" y1="864.6" x2="1044.92" y2="860.1" stroke="#000" stroke-width="2"/>
<line x1="1044.92" y1="551.8" x2="1044.92" y2="556.3" stroke="#000" stroke-width="2"/>
<line x1="1100.27" y1="864.6" x2="1100.27" y2="860.1" stroke="#000" stroke-width="2"/>
<line x1="1100.27" y1="551.8" x2="1100.27" y2="556.3" stroke="#000" stroke-width="2"/>
<line x1="1127.95" y1="864.6" x2="1127.95" y2="860.1" stroke="#000" stroke-width="2"/>
<line x1="1127.95" y1="551.8" x2="1127.95" y2="556.3" stroke="#000" stroke-width="2"/>
<line x1="1155.62" y1="864.6" x2="1155.62" y2="860.1" stroke="#000" stroke-width="2"/>
<line x1="1155.62" y1="551.8" x2="1155.62" y2="556.3" stroke="#000" stroke-width="2"/>
<line x1="1210.97" y1="864.6" x2="1210.97" y2="860.1" stroke="#000" stroke-width="2"/>
<line x1="1210.97" y1="551.8" x2="1210.97" y2="556.3" stroke="#000" stroke-width="2"/>
<line x1="1238.65" y1="864.6" x2="1238.65" y2="860.1" stroke="#000" stroke-width="2"/>
<line x1="1238.65" y1="551.8" x2="1238.65" y2="556.3" stroke="#000" stroke-width="2"/>
<line x1="1266.32" y1="864.6" x2="1266.32" y2="860.1" stroke="#000" stroke-width="2"/>
<line x1="1266.32" y1="551.8" x2="1266.32" y2="556.3" stroke="#000" stroke-width="2"/>
<line x1="1321.67" y1="864.6" x2="1321.67" y2="860.1" stroke="#000" stroke-width="2"/>
<line x1="1321.67" y1="551.8" x2="1321.67" y2="556.3" stroke="#000" stroke-width="2"/>
<line x1="796.5" y1="864.6" x2="806" y2="864.6" stroke="#000" stroke-width="2"/>
<line x1="1350" y1="864.6" x2="1340.5" y2="864.6" stroke="#000" stroke-width="2"/>
<line x1="796.5" y1="708.2" x2="806" y2="708.2" stroke="#000" stroke-width="2"/>
<line x1="1350" y1="708.2" x2="1340.5" y2="708.2" stroke="#000" stroke-width="2"/>
<line x1="796.5" y1="551.8" x2="806" y2="551.8" stroke="#000" stroke-width="2"/>
<line x1="1350" y1="551.8" x2="1340.5" y2="551.8" stroke="#000" stroke-width="2"/>
<line x1="796.5" y1="833.32" x2="801" y2="833.32" stroke="#000" stroke-width="2"/>
<line x1="1350" y1="833.32" x2="1345.5" y2="833.32" stroke="#000" stroke-width="2"/>
<line x1="796.5" y1="802.04" x2="801" y2="802.04" stroke="#000" stroke-width="2"/>
<line x1="1350" y1="802.04" x2="1345.5" y2="802.04" stroke="#000" stroke-width="2"/>
<line x1="796.5" y1="770.76" x2="801" y2="770.76" stroke="#000" stroke-width="2"/>
<line x1="1350" y1="770.76" x2="1345.5" y2="770.76" stroke="#000" stroke-width="2"/>
<line x1="796.5" y1="739.48" x2="801" y2="739.48" stroke="#000" stroke-width="2"/>
<line x1="1350" y1="739.48" x2="1345.5" y2="739.48" stroke="#000" stroke-width="2"/>
<line x1="796.5" y1="676.92" x2="801" y2="676.92" stroke="#000" stroke-width="2"/>
<line x1="1350" y1="676.92" x2="1345.5" y2="676.92" stroke="#000" stroke-width="2"/>
<line x1="796.5" y1="645.64" x2="801" y2="645.64" stroke="#000" stroke-width="2"/>
<line x1="1350" y1="645.64" x2="1345.5" y2="645.64" stroke="#000" stroke-width="2"/>
<line x1="796.5" y1="614.36" x2="801" y2="614.36" stroke="#000" stroke-width="2"/>
<line x1="1350" y1="614.36" x2="1345.5" y2="614.36" stroke="#000" stroke-width="2"/>
<line x1="796.5" y1="583.08" x2="801" y2="583.08" stroke="#000" stroke-width="2"/>
<line x1="1350" y1="583.08" x2="1345.5" y2="583.08" stroke="#000" stroke-width="2"/>
<rect x="796.5" y="551.8" width="553.5" height="312.8" fill="none" stroke="#000" stroke-width="2"/>
<text x="857.2" y="886.2" font-size="22" text-anchor="end" >−4</text>
<text x="967.9" y="886.2" font-size="22" text-anchor="end" >−2</text>
<text x="1072.6" y="886.2" font-size="22" text-anchor="middle" >0</text>
<text x="1183.3" y="886.2" font-size="22" text-anchor="middle" >2</text>
<text x="1294" y="886.2" font-size="22" text-anchor="middle" >4</text>
<text x="792.2" y="872.3" font-size="22" text-anchor="end" >0.0</text>
<text x="792.2" y="715.9" font-size="22" text-anchor="end" >0.5</text>
<text x="792.2" y="559.5" font-size="22" text-anchor="end" >1.0</text>
<text x="896.66" y="929.6" font-size="31" textLength="65.75" lengthAdjust="spacingAndGlyphs" ><tspan>laser</tspan></text>
<text x="969.98" y="929.6" font-size="31" textLength="81.25" lengthAdjust="spacingAndGlyphs" ><tspan>phase</tspan></text>
<text x="1058.26" y="929.6" font-size="31" textLength="127.81" lengthAdjust="spacingAndGlyphs" ><tspan>deviation</tspan></text>
<text x="1193.16" y="929.6" font-size="31" textLength="53.79" lengthAdjust="spacingAndGlyphs" ><tspan font-style="italic">ϕ</tspan><tspan>/π</tspan></text>
<text transform="translate(731,0) rotate(-90)" x="-863.86" y="0" font-size="31" textLength="72.77" lengthAdjust="spacingAndGlyphs" ><tspan>prob.</tspan></text>
<text transform="translate(731,0) rotate(-90)" x="-784.25" y="0" font-size="31" textLength="94.31" lengthAdjust="spacingAndGlyphs" ><tspan>density</tspan></text>
<text transform="translate(731,0) rotate(-90)" x="-678.97" y="0" font-size="31" textLength="127.93" lengthAdjust="spacingAndGlyphs" ><tspan font-style="italic">P</tspan><tspan>(</tspan><tspan font-style="italic">ϕ</tspan><tspan>)/</tspan><tspan font-style="italic">P</tspan><tspan>(0)</tspan></text>
<rect x="0" y="0" width="43.3" height="42.8" fill="#1b6fdc"/>
<text x="21.7" y="35.2" font-size="36" fill="#fff" text-anchor="middle">a</text>
<rect x="692" y="0" width="43.3" height="42.8" fill="#1b6fdc"/>
<text x="713.7" y="35.2" font-size="36" fill="#fff" text-anchor="middle">b</text>
<rect x="0" y="476" width="43.3" height="42.8" fill="#1b6fdc"/>
<text x="21.7" y="511.2" font-size="36" fill="#fff" text-anchor="middle">c</text>
<rect x="692" y="476" width="43.3" height="42.8" fill="#1b6fdc"/>
<text x="713.7" y="511.2" font-size="36" fill="#fff" text-anchor="middle">d</text>
</svg></body></html>
